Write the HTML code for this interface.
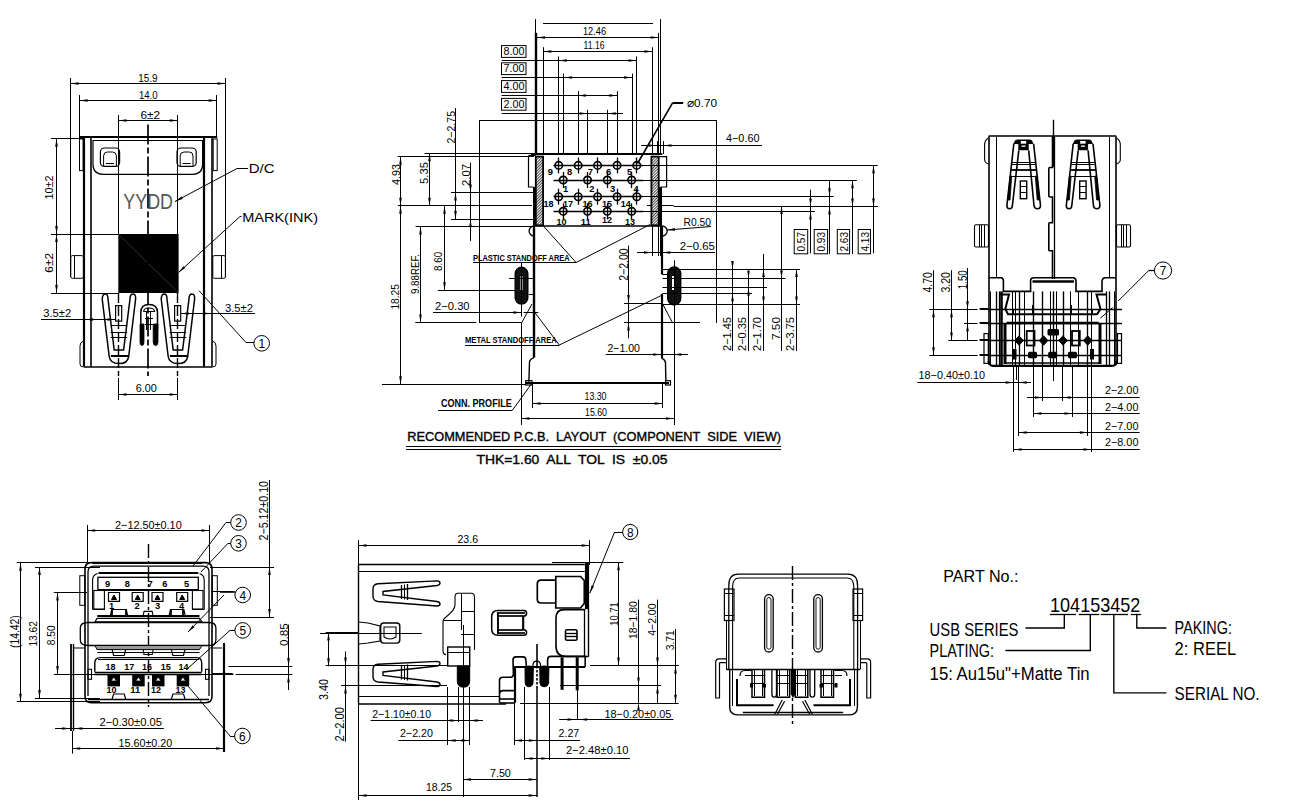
<!DOCTYPE html>
<html><head><meta charset="utf-8"><style>
html,body{margin:0;padding:0;background:#fff;width:1315px;height:809px;overflow:hidden}
svg{display:block}
text{font-family:"Liberation Sans",sans-serif;fill:#000;stroke:none}
</style></head><body>
<svg width="1315" height="809" viewBox="0 0 1315 809">
<g stroke="#000" fill="none" stroke-linecap="butt">
<line x1="70.5" y1="78" x2="70.5" y2="277" stroke-width="1"/>
<line x1="225.5" y1="78" x2="225.5" y2="277" stroke-width="1"/>
<line x1="70.6" y1="83.5" x2="225.5" y2="83.5" stroke-width="1"/>
<polygon points="70.6,83.5 78.6,82.2 78.6,84.8" stroke="none" fill="#000"/>
<polygon points="225.5,83.5 217.5,84.8 217.5,82.2" stroke="none" fill="#000"/>
<text x="138.3" y="81.9" font-size="10.97" textLength="19.3" lengthAdjust="spacingAndGlyphs" font-weight="normal">15.9</text>
<line x1="79.5" y1="95" x2="79.5" y2="138" stroke-width="1"/>
<line x1="216.5" y1="95" x2="216.5" y2="138" stroke-width="1"/>
<line x1="79.6" y1="100.5" x2="216.7" y2="100.5" stroke-width="1"/>
<polygon points="79.6,100.5 87.6,99.2 87.6,101.8" stroke="none" fill="#000"/>
<polygon points="216.7,100.5 208.7,101.8 208.7,99.2" stroke="none" fill="#000"/>
<text x="138.9" y="98.6" font-size="10.97" textLength="18.7" lengthAdjust="spacingAndGlyphs" font-weight="normal">14.0</text>
<line x1="118.5" y1="115" x2="118.5" y2="234" stroke-width="1"/>
<line x1="177.5" y1="115" x2="177.5" y2="234" stroke-width="1"/>
<line x1="118.5" y1="120.5" x2="177.8" y2="120.5" stroke-width="1"/>
<polygon points="118.5,120.5 126.5,119.2 126.5,121.8" stroke="none" fill="#000"/>
<polygon points="177.8,120.5 169.8,121.8 169.8,119.2" stroke="none" fill="#000"/>
<text x="140.4" y="118.5" font-size="10.97" textLength="19.6" lengthAdjust="spacingAndGlyphs" font-weight="normal">6±2</text>
<line x1="51" y1="138.5" x2="84" y2="138.5" stroke-width="1"/>
<line x1="51" y1="234.5" x2="118.3" y2="234.5" stroke-width="1"/>
<line x1="51" y1="293.5" x2="118.3" y2="293.5" stroke-width="1"/>
<line x1="56.5" y1="138.8" x2="56.5" y2="234" stroke-width="1"/>
<polygon points="56.5,138.8 57.8,146.8 55.2,146.8" stroke="none" fill="#000"/>
<polygon points="56.5,234 55.2,226 57.8,226" stroke="none" fill="#000"/>
<line x1="56.5" y1="234" x2="56.5" y2="293" stroke-width="1"/>
<polygon points="56.5,234 57.8,242 55.2,242" stroke="none" fill="#000"/>
<polygon points="56.5,293 55.2,285 57.8,285" stroke="none" fill="#000"/>
<text transform="translate(52.8,199.5) rotate(-90)" x="0" y="0" font-size="10.97" textLength="24" lengthAdjust="spacingAndGlyphs" font-weight="normal">10±2</text>
<text transform="translate(52.8,272.7) rotate(-90)" x="0" y="0" font-size="10.97" textLength="19.7" lengthAdjust="spacingAndGlyphs" font-weight="normal">6±2</text>
<line x1="79.7" y1="137" x2="217.2" y2="137" stroke-width="2"/>
<line x1="93" y1="140.5" x2="202.6" y2="140.5" stroke-width="1"/>
<path d="M93,140.2 L93,164.3 Q93,174.3 103,174.3 L192.6,174.3 Q202.6,174.3 202.6,164.3 L202.6,140.2" stroke-width="1.2" fill="none"/>
<rect x="100.4" y="148" width="19.2" height="18.4" rx="4" stroke-width="1.2" fill="none"/>
<path d="M103.6,166 L103.6,156 Q103.6,152 107.4,152 L112.6,152 Q116.4,152 116.4,156 L116.4,166" stroke-width="1" fill="none"/>
<line x1="105.9" y1="163.5" x2="114.1" y2="163.5" stroke-width="1"/>
<rect x="177" y="148" width="19.2" height="18.4" rx="4" stroke-width="1.2" fill="none"/>
<path d="M180.2,166 L180.2,156 Q180.2,152 184,152 L189.2,152 Q193,152 193,156 L193,166" stroke-width="1" fill="none"/>
<line x1="182.5" y1="163.5" x2="190.7" y2="163.5" stroke-width="1"/>
<line x1="84" y1="137" x2="84" y2="366.7" stroke-width="2.2"/>
<line x1="91" y1="137" x2="91" y2="366.7" stroke-width="1.6"/>
<line x1="204" y1="137" x2="204" y2="366.7" stroke-width="2.2"/>
<line x1="212" y1="137" x2="212" y2="366.7" stroke-width="1.6"/>
<line x1="84" y1="367" x2="212.3" y2="367" stroke-width="1.6"/>
<rect x="79.5" y="139" width="3.6" height="31.6" rx="0" stroke-width="1" fill="none"/>
<rect x="213.2" y="139" width="4" height="31.6" rx="0" stroke-width="1" fill="none"/>
<rect x="70.8" y="255.6" width="12.6" height="22.7" rx="1.5" stroke-width="1" fill="none"/>
<line x1="74.5" y1="256" x2="74.5" y2="278" stroke-width="1"/>
<rect x="212.8" y="255.6" width="12.6" height="22.7" rx="1.5" stroke-width="1" fill="none"/>
<line x1="221.5" y1="256" x2="221.5" y2="278" stroke-width="1"/>
<path d="M83.5,341 Q80,342 80,346 L80,364 Q80,367 83.5,367" stroke-width="1" fill="none"/>
<path d="M212.5,341 Q216,342 216,346 L216,364 Q216,367 212.5,367" stroke-width="1" fill="none"/>
<rect x="118.3" y="234" width="60.3" height="59" stroke="none" fill="#000"/>
<line x1="118.8" y1="234.5" x2="178" y2="292.5" stroke="#555" stroke-width="0.6"/>
<line x1="148" y1="124.4" x2="148" y2="376" stroke-width="1.7" stroke-dasharray="20 3 6 3"/>
<text x="123.3" y="209.2" font-size="22.6" textLength="49.7" lengthAdjust="spacingAndGlyphs" fill="#444" style="fill:#555">YYDD</text>
<text x="248.7" y="173.3" font-size="12.35" textLength="25.9" lengthAdjust="spacingAndGlyphs" font-weight="normal">D/C</text>
<line x1="237" y1="168.5" x2="248" y2="168.5" stroke-width="1"/>
<line x1="237" y1="168.5" x2="175" y2="201.5" stroke-width="1"/>
<polygon points="175,201.5 181.45,196.59 182.67,198.89" stroke="none" fill="#000"/>
<text x="242.2" y="222.1" font-size="13.03" textLength="75.8" lengthAdjust="spacingAndGlyphs" font-weight="normal">MARK(INK)</text>
<line x1="240" y1="216.5" x2="241.5" y2="216.5" stroke-width="1"/>
<line x1="240" y1="216.5" x2="178.5" y2="272.5" stroke-width="1"/>
<polygon points="178.5,272.5 183.54,266.15 185.29,268.08" stroke="none" fill="#000"/>
<line x1="199" y1="290.7" x2="246" y2="342.5" stroke-width="1"/>
<line x1="246" y1="342.5" x2="254" y2="342.5" stroke-width="1"/>
<circle cx="261.7" cy="343.3" r="7.8" stroke-width="1" fill="none"/>
<text x="258.4" y="347.9" font-size="12.76" textLength="6.6" lengthAdjust="spacingAndGlyphs" font-weight="normal">1</text>
<path d="M102.2,299 Q102.5,294 105.2,294 Q108,294 108,299 L114.2,350 L123.6,350 L130,299 Q130,294 133,294 Q136,294 135.6,299 L128.7,356.5 Q127.5,363.6 118.9,363.6 Q110.3,363.6 109.2,356.5 Z" stroke-width="1.5" fill="none"/>
<line x1="110.9" y1="356" x2="128.4" y2="356" stroke-width="2"/>
<line x1="110.6" y1="325.5" x2="127.2" y2="325.5" stroke-width="1"/>
<line x1="110.6" y1="332.5" x2="127.2" y2="332.5" stroke-width="1"/>
<line x1="110.6" y1="337.5" x2="127.2" y2="337.5" stroke-width="1"/>
<rect x="115.6" y="305.6" width="6.1" height="15.5" rx="0" stroke-width="1.2" fill="none"/>
<line x1="118.5" y1="293" x2="118.5" y2="376" stroke-width="1.4" stroke-dasharray="10 3"/>
<path d="M161.2,299 Q161.5,294 164.2,294 Q167,294 167,299 L173.2,350 L182.6,350 L189,299 Q189,294 192,294 Q195,294 194.6,299 L187.7,356.5 Q186.5,363.6 177.9,363.6 Q169.3,363.6 168.2,356.5 Z" stroke-width="1.5" fill="none"/>
<line x1="169.9" y1="356" x2="187.4" y2="356" stroke-width="2"/>
<line x1="169.6" y1="325.5" x2="186.2" y2="325.5" stroke-width="1"/>
<line x1="169.6" y1="332.5" x2="186.2" y2="332.5" stroke-width="1"/>
<line x1="169.6" y1="337.5" x2="186.2" y2="337.5" stroke-width="1"/>
<rect x="174.6" y="305.6" width="6.1" height="15.5" rx="0" stroke-width="1.2" fill="none"/>
<line x1="177.5" y1="293" x2="177.5" y2="376" stroke-width="1.4" stroke-dasharray="10 3"/>
<path d="M140.8,330 L140.8,312.5 Q140.8,304.5 149,304.5 Q157.5,304.5 157.5,312.5 L157.5,330" stroke-width="1.5" fill="none"/>
<path d="M143.6,312 Q143.6,308 149,308 Q154.6,308 154.6,312" stroke-width="1.1" fill="none"/>
<path d="M140,324 L144,324 L144,342 Q144,345.5 142,345.5 Q140,345.5 140,342 Z M153.2,324 L158,324 L158,342 Q158,345.5 155.6,345.5 Q153.2,345.5 153.2,342 Z" fill="#000" stroke="#000" stroke-width="0.8"/>
<line x1="146.5" y1="311" x2="146.5" y2="330" stroke-width="1"/>
<line x1="150.5" y1="311" x2="150.5" y2="330" stroke-width="1"/>
<line x1="144" y1="311.5" x2="154.5" y2="311.5" stroke-width="1"/>
<line x1="145" y1="318.5" x2="153" y2="318.5" stroke-width="1"/>
<line x1="145" y1="324.5" x2="153" y2="324.5" stroke-width="1"/>
<line x1="41" y1="319.5" x2="115.6" y2="319.5" stroke-width="1"/>
<polygon points="115.4,319.5 107.4,320.8 107.4,318.2" stroke="none" fill="#000"/>
<polygon points="85.2,319.5 93.2,318.2 93.2,320.8" stroke="none" fill="#000"/>
<text x="43.3" y="317.2" font-size="10.97" textLength="27.9" lengthAdjust="spacingAndGlyphs" font-weight="normal">3.5±2</text>
<line x1="180.5" y1="313.5" x2="255" y2="313.5" stroke-width="1"/>
<polygon points="180.7,313.5 188.7,312.2 188.7,314.8" stroke="none" fill="#000"/>
<polygon points="211,313.5 203,314.8 203,312.2" stroke="none" fill="#000"/>
<text x="225" y="311.7" font-size="10.97" textLength="28" lengthAdjust="spacingAndGlyphs" font-weight="normal">3.5±2</text>
<line x1="118.5" y1="378" x2="118.5" y2="400" stroke-width="1"/>
<line x1="177.5" y1="378" x2="177.5" y2="400" stroke-width="1"/>
<line x1="118.5" y1="394.5" x2="177.8" y2="394.5" stroke-width="1"/>
<polygon points="118.5,394.5 126.5,393.2 126.5,395.8" stroke="none" fill="#000"/>
<polygon points="177.8,394.5 169.8,395.8 169.8,393.2" stroke="none" fill="#000"/>
<text x="135.7" y="392.4" font-size="10.97" textLength="21.1" lengthAdjust="spacingAndGlyphs" font-weight="normal">6.00</text>
<line x1="535.5" y1="19" x2="535.5" y2="33" stroke-width="1"/>
<line x1="536" y1="32.8" x2="536" y2="155" stroke-width="2.4"/>
<line x1="660.5" y1="19" x2="660.5" y2="155" stroke-width="1"/>
<line x1="658.5" y1="32.8" x2="658.5" y2="155" stroke-width="1"/>
<line x1="543" y1="23.5" x2="653" y2="23.5" stroke-width="1"/>
<line x1="537" y1="37.5" x2="658.8" y2="37.5" stroke-width="1"/>
<polygon points="537,37.5 545,36.2 545,38.8" stroke="none" fill="#000"/>
<polygon points="658.8,37.5 650.8,38.8 650.8,36.2" stroke="none" fill="#000"/>
<text x="583" y="34.5" font-size="10.97" textLength="23" lengthAdjust="spacingAndGlyphs" font-weight="normal">12.46</text>
<line x1="543.5" y1="47.2" x2="543.5" y2="155" stroke-width="1"/>
<line x1="652.5" y1="47.2" x2="652.5" y2="155" stroke-width="1"/>
<line x1="543.3" y1="51.5" x2="652.4" y2="51.5" stroke-width="1"/>
<polygon points="543.3,51.5 551.3,50.2 551.3,52.8" stroke="none" fill="#000"/>
<polygon points="652.4,51.5 644.4,52.8 644.4,50.2" stroke="none" fill="#000"/>
<text x="583.5" y="48.8" font-size="10.97" textLength="21" lengthAdjust="spacingAndGlyphs" font-weight="normal">11.16</text>
<rect x="501.5" y="45.6" width="24.5" height="11.8" rx="0" stroke-width="1" fill="none"/>
<text x="503.5" y="55.2" font-size="10.43" textLength="21" lengthAdjust="spacingAndGlyphs" font-weight="normal">8.00</text>
<line x1="501.6" y1="60.5" x2="636.5" y2="60.5" stroke-width="1"/>
<line x1="558.5" y1="56.4" x2="558.5" y2="155" stroke-width="1"/>
<line x1="636.5" y1="56.4" x2="636.5" y2="155" stroke-width="1"/>
<rect x="501.5" y="62.8" width="24.5" height="11.8" rx="0" stroke-width="1" fill="none"/>
<text x="503.5" y="72.4" font-size="10.43" textLength="21" lengthAdjust="spacingAndGlyphs" font-weight="normal">7.00</text>
<line x1="501.6" y1="77.5" x2="632" y2="77.5" stroke-width="1"/>
<line x1="563.5" y1="73.6" x2="563.5" y2="155" stroke-width="1"/>
<line x1="632.5" y1="73.6" x2="632.5" y2="155" stroke-width="1"/>
<rect x="501.5" y="80.6" width="24.5" height="11.8" rx="0" stroke-width="1" fill="none"/>
<text x="503.5" y="90.2" font-size="10.43" textLength="21" lengthAdjust="spacingAndGlyphs" font-weight="normal">4.00</text>
<line x1="501.6" y1="95.5" x2="617.2" y2="95.5" stroke-width="1"/>
<line x1="578.5" y1="91.1" x2="578.5" y2="155" stroke-width="1"/>
<line x1="617.5" y1="91.1" x2="617.5" y2="155" stroke-width="1"/>
<rect x="501.5" y="98.4" width="24.5" height="11.8" rx="0" stroke-width="1" fill="none"/>
<text x="503.5" y="108" font-size="10.43" textLength="21" lengthAdjust="spacingAndGlyphs" font-weight="normal">2.00</text>
<line x1="501.6" y1="113.5" x2="607.8" y2="113.5" stroke-width="1"/>
<line x1="587.5" y1="109.8" x2="587.5" y2="155" stroke-width="1"/>
<line x1="607.5" y1="109.8" x2="607.5" y2="155" stroke-width="1"/>
<polygon points="558.8,60.5 566.8,59.2 566.8,61.8" stroke="none" fill="#000"/>
<polygon points="636.5,60.5 628.5,61.8 628.5,59.2" stroke="none" fill="#000"/>
<polygon points="563.9,77.5 571.9,76.2 571.9,78.8" stroke="none" fill="#000"/>
<polygon points="632,77.5 624,78.8 624,76.2" stroke="none" fill="#000"/>
<polygon points="578,95.5 586,94.2 586,96.8" stroke="none" fill="#000"/>
<polygon points="617.2,95.5 609.2,96.8 609.2,94.2" stroke="none" fill="#000"/>
<line x1="578" y1="113.5" x2="623" y2="113.5" stroke-width="1"/>
<polygon points="587.6,113.5 579.6,114.8 579.6,112.2" stroke="none" fill="#000"/>
<polygon points="607.8,113.5 615.8,112.2 615.8,114.8" stroke="none" fill="#000"/>
<line x1="479.3" y1="120.5" x2="716.8" y2="120.5" stroke-width="1"/>
<line x1="479.5" y1="120.3" x2="479.5" y2="323" stroke-width="1"/>
<line x1="716.5" y1="120.3" x2="716.5" y2="323" stroke-width="1"/>
<line x1="455.5" y1="108" x2="455.5" y2="219" stroke-width="1"/>
<text transform="translate(455,143.5) rotate(-90)" x="0" y="0" font-size="10.97" textLength="32.5" lengthAdjust="spacingAndGlyphs" font-weight="normal">2−2.75</text>
<line x1="397.8" y1="156.5" x2="534" y2="156.5" stroke-width="1"/>
<line x1="424.5" y1="153.5" x2="569.8" y2="153.5" stroke-width="1"/>
<line x1="451" y1="192.5" x2="534" y2="192.5" stroke-width="1"/>
<line x1="451" y1="219.5" x2="534" y2="219.5" stroke-width="1"/>
<line x1="397.8" y1="205.5" x2="532" y2="205.5" stroke-width="1"/>
<line x1="647" y1="205.5" x2="673.6" y2="205.5" stroke-width="1"/>
<line x1="415.6" y1="226.5" x2="534" y2="226.5" stroke-width="1"/>
<line x1="400.5" y1="156.8" x2="400.5" y2="205.7" stroke-width="1"/>
<polygon points="400.5,156.8 401.8,164.8 399.2,164.8" stroke="none" fill="#000"/>
<polygon points="400.5,205.7 399.2,197.7 401.8,197.7" stroke="none" fill="#000"/>
<text transform="translate(400,185) rotate(-90)" x="0" y="0" font-size="10.97" textLength="21" lengthAdjust="spacingAndGlyphs" font-weight="normal">4.93</text>
<line x1="429.5" y1="153.2" x2="429.5" y2="205.7" stroke-width="1"/>
<polygon points="429.5,153.2 430.8,161.2 428.2,161.2" stroke="none" fill="#000"/>
<polygon points="429.5,205.7 428.2,197.7 430.8,197.7" stroke="none" fill="#000"/>
<text transform="translate(428,184) rotate(-90)" x="0" y="0" font-size="10.97" textLength="22" lengthAdjust="spacingAndGlyphs" font-weight="normal">5.35</text>
<line x1="470.5" y1="162.7" x2="470.5" y2="241" stroke-width="1"/>
<polygon points="470.5,192.4 469.2,184.4 471.8,184.4" stroke="none" fill="#000"/>
<polygon points="470.5,219 471.8,227 469.2,227" stroke="none" fill="#000"/>
<text transform="translate(469.5,186) rotate(-90)" x="0" y="0" font-size="10.97" textLength="22" lengthAdjust="spacingAndGlyphs" font-weight="normal">2.07</text>
<line x1="455.5" y1="192.4" x2="455.5" y2="219" stroke-width="1"/>
<polygon points="455.5,192.4 456.8,200.4 454.2,200.4" stroke="none" fill="#000"/>
<polygon points="455.5,219 454.2,211 456.8,211" stroke="none" fill="#000"/>
<line x1="400.5" y1="205.7" x2="400.5" y2="384.2" stroke-width="1"/>
<polygon points="400.5,384.2 399.2,376.2 401.8,376.2" stroke="none" fill="#000"/>
<polygon points="400.5,205.7 401.8,213.7 399.2,213.7" stroke="none" fill="#000"/>
<text transform="translate(399,309.6) rotate(-90)" x="0" y="0" font-size="10.97" textLength="25.6" lengthAdjust="spacingAndGlyphs" font-weight="normal">18.25</text>
<line x1="420.5" y1="226.5" x2="420.5" y2="322.5" stroke-width="1"/>
<polygon points="420.5,226.5 421.8,234.5 419.2,234.5" stroke="none" fill="#000"/>
<polygon points="420.5,322.5 419.2,314.5 421.8,314.5" stroke="none" fill="#000"/>
<text transform="translate(418.5,294) rotate(-90)" x="0" y="0" font-size="10.97" textLength="40" lengthAdjust="spacingAndGlyphs" font-weight="normal">9.88REF.</text>
<line x1="444.5" y1="205.7" x2="444.5" y2="290.2" stroke-width="1"/>
<polygon points="444.5,290.2 443.2,282.2 445.8,282.2" stroke="none" fill="#000"/>
<polygon points="444.5,205.7 445.8,213.7 443.2,213.7" stroke="none" fill="#000"/>
<text transform="translate(441.5,271) rotate(-90)" x="0" y="0" font-size="11.66" textLength="19.2" lengthAdjust="spacingAndGlyphs" font-weight="normal">8.60</text>
<line x1="437.8" y1="290.5" x2="521.4" y2="290.5" stroke-width="1"/>
<line x1="415.3" y1="322.5" x2="476.4" y2="322.5" stroke-width="1"/>
<line x1="479.6" y1="322.5" x2="521.4" y2="322.5" stroke-width="1"/>
<line x1="433" y1="312.5" x2="521.4" y2="312.5" stroke-width="1"/>
<polygon points="521.4,312.5 513.4,313.8 513.4,311.2" stroke="none" fill="#000"/>
<text x="435" y="310.2" font-size="10.97" textLength="34.6" lengthAdjust="spacingAndGlyphs" font-weight="normal">2−0.30</text>
<line x1="382" y1="384.5" x2="526" y2="384.5" stroke-width="1"/>
<line x1="531" y1="154" x2="662.3" y2="154" stroke-width="2"/>
<line x1="533.4" y1="226" x2="662.3" y2="226" stroke-width="1.5"/>
<defs><pattern id="hat" width="2" height="2" patternUnits="userSpaceOnUse" patternTransform="rotate(45)"><rect width="2" height="2" fill="#fff" stroke="none"/><line x1="0" y1="0" x2="0" y2="2" stroke="#000" stroke-width="1.45"/></pattern></defs>
<rect x="535.8" y="156.6" width="7.3" height="68.7" fill="url(#hat)" stroke="#000" stroke-width="1.8"/>
<rect x="651.4" y="156.6" width="7.3" height="68.7" fill="url(#hat)" stroke="#000" stroke-width="1.8"/>
<path d="M535.8,155.3 L529.5,155.3 Q528.5,155.3 528.5,157 L528.5,187 L533.4,187" stroke-width="1.2" fill="none"/>
<line x1="534.5" y1="187" x2="534.5" y2="226" stroke-width="3"/>
<path d="M658.7,156.6 L666.6,156.6 L666.6,187 L660.5,187" stroke-width="1.2" fill="none"/>
<line x1="660.5" y1="187" x2="660.5" y2="226" stroke-width="3"/>
<line x1="553.5" y1="165.5" x2="643" y2="165.5" stroke-width="1.3"/>
<circle cx="558.7" cy="165.4" r="3.7" stroke-width="1.7" fill="none"/>
<line x1="558.5" y1="157.4" x2="558.5" y2="173.4" stroke-width="1.3"/>
<circle cx="578.2" cy="165.4" r="3.7" stroke-width="1.7" fill="none"/>
<line x1="578.5" y1="157.4" x2="578.5" y2="173.4" stroke-width="1.3"/>
<circle cx="597.6" cy="165.4" r="3.7" stroke-width="1.7" fill="none"/>
<line x1="597.5" y1="157.4" x2="597.5" y2="173.4" stroke-width="1.3"/>
<circle cx="617.1" cy="165.4" r="3.7" stroke-width="1.7" fill="none"/>
<line x1="617.5" y1="157.4" x2="617.5" y2="173.4" stroke-width="1.3"/>
<circle cx="636.8" cy="165.4" r="3.7" stroke-width="1.7" fill="none"/>
<line x1="636.5" y1="157.4" x2="636.5" y2="173.4" stroke-width="1.3"/>
<line x1="553.5" y1="180.5" x2="643" y2="180.5" stroke-width="1.3"/>
<circle cx="563.2" cy="180" r="3.7" stroke-width="1.7" fill="none"/>
<line x1="563.5" y1="172" x2="563.5" y2="188" stroke-width="1.3"/>
<circle cx="587.5" cy="180" r="3.7" stroke-width="1.7" fill="none"/>
<line x1="587.5" y1="172" x2="587.5" y2="188" stroke-width="1.3"/>
<circle cx="607.3" cy="180" r="3.7" stroke-width="1.7" fill="none"/>
<line x1="607.5" y1="172" x2="607.5" y2="188" stroke-width="1.3"/>
<circle cx="631.7" cy="180" r="3.7" stroke-width="1.7" fill="none"/>
<line x1="631.5" y1="172" x2="631.5" y2="188" stroke-width="1.3"/>
<line x1="553.5" y1="196.5" x2="643" y2="196.5" stroke-width="1.3"/>
<circle cx="558.7" cy="196.7" r="3.7" stroke-width="1.7" fill="none"/>
<line x1="558.5" y1="188.7" x2="558.5" y2="204.7" stroke-width="1.3"/>
<circle cx="578.2" cy="196.7" r="3.7" stroke-width="1.7" fill="none"/>
<line x1="578.5" y1="188.7" x2="578.5" y2="204.7" stroke-width="1.3"/>
<circle cx="597.6" cy="196.7" r="3.7" stroke-width="1.7" fill="none"/>
<line x1="597.5" y1="188.7" x2="597.5" y2="204.7" stroke-width="1.3"/>
<circle cx="617.1" cy="196.7" r="3.7" stroke-width="1.7" fill="none"/>
<line x1="617.5" y1="188.7" x2="617.5" y2="204.7" stroke-width="1.3"/>
<circle cx="636.8" cy="196.7" r="3.7" stroke-width="1.7" fill="none"/>
<line x1="636.5" y1="188.7" x2="636.5" y2="204.7" stroke-width="1.3"/>
<line x1="553.5" y1="211.5" x2="643" y2="211.5" stroke-width="1.3"/>
<circle cx="563.2" cy="211.3" r="3.7" stroke-width="1.7" fill="none"/>
<line x1="563.5" y1="203.3" x2="563.5" y2="219.3" stroke-width="1.3"/>
<circle cx="587.5" cy="211.3" r="3.7" stroke-width="1.7" fill="none"/>
<line x1="587.5" y1="203.3" x2="587.5" y2="219.3" stroke-width="1.3"/>
<circle cx="607.3" cy="211.3" r="3.7" stroke-width="1.7" fill="none"/>
<line x1="607.5" y1="203.3" x2="607.5" y2="219.3" stroke-width="1.3"/>
<circle cx="631.7" cy="211.3" r="3.7" stroke-width="1.7" fill="none"/>
<line x1="631.5" y1="203.3" x2="631.5" y2="219.3" stroke-width="1.3"/>
<text x="547.8" y="175.4" font-size="9.88" textLength="5.2" lengthAdjust="spacingAndGlyphs" font-weight="bold">9</text>
<text x="567" y="175.4" font-size="9.88" textLength="5.2" lengthAdjust="spacingAndGlyphs" font-weight="bold">8</text>
<text x="587.7" y="175.4" font-size="9.88" textLength="5.2" lengthAdjust="spacingAndGlyphs" font-weight="bold">7</text>
<text x="606" y="174.8" font-size="9.88" textLength="5.2" lengthAdjust="spacingAndGlyphs" font-weight="bold">6</text>
<text x="626.9" y="174.8" font-size="9.88" textLength="5.2" lengthAdjust="spacingAndGlyphs" font-weight="bold">5</text>
<text x="563" y="191.8" font-size="9.88" textLength="5.2" lengthAdjust="spacingAndGlyphs" font-weight="bold">1</text>
<text x="589.2" y="192.4" font-size="9.88" textLength="5.2" lengthAdjust="spacingAndGlyphs" font-weight="bold">2</text>
<text x="609.9" y="192.4" font-size="9.88" textLength="5.2" lengthAdjust="spacingAndGlyphs" font-weight="bold">3</text>
<text x="633.6" y="191.8" font-size="9.88" textLength="5.2" lengthAdjust="spacingAndGlyphs" font-weight="bold">4</text>
<text x="543.6" y="207" font-size="9.88" textLength="10" lengthAdjust="spacingAndGlyphs" font-weight="bold">18</text>
<text x="563" y="207" font-size="9.88" textLength="10" lengthAdjust="spacingAndGlyphs" font-weight="bold">17</text>
<text x="582.5" y="207" font-size="9.88" textLength="10" lengthAdjust="spacingAndGlyphs" font-weight="bold">16</text>
<text x="602" y="207" font-size="9.88" textLength="10" lengthAdjust="spacingAndGlyphs" font-weight="bold">15</text>
<text x="620.8" y="207" font-size="9.88" textLength="10" lengthAdjust="spacingAndGlyphs" font-weight="bold">14</text>
<text x="556.4" y="225.2" font-size="9.88" textLength="10" lengthAdjust="spacingAndGlyphs" font-weight="bold">10</text>
<text x="580.7" y="225.2" font-size="9.88" textLength="10" lengthAdjust="spacingAndGlyphs" font-weight="bold">11</text>
<text x="602" y="222.8" font-size="9.88" textLength="10" lengthAdjust="spacingAndGlyphs" font-weight="bold">12</text>
<text x="625" y="224.6" font-size="9.88" textLength="10" lengthAdjust="spacingAndGlyphs" font-weight="bold">13</text>
<text x="687" y="106.8" font-size="11.66" textLength="30" lengthAdjust="spacingAndGlyphs" font-weight="normal">⌀0.70</text>
<line x1="672.6" y1="103" x2="683.2" y2="103" stroke-width="2"/>
<line x1="672.6" y1="102.8" x2="637.5" y2="163.5" stroke-width="1.6"/>
<text x="726" y="142.2" font-size="10.97" textLength="33.5" lengthAdjust="spacingAndGlyphs" font-weight="normal">4−0.60</text>
<line x1="641.2" y1="145.5" x2="762" y2="145.5" stroke-width="1"/>
<polygon points="656.5,145.5 648.5,146.8 648.5,144.2" stroke="none" fill="#000"/>
<polygon points="663.5,145.5 671.5,144.2 671.5,146.8" stroke="none" fill="#000"/>
<line x1="657.5" y1="141.1" x2="657.5" y2="154" stroke-width="1"/>
<line x1="663.5" y1="141.1" x2="663.5" y2="154" stroke-width="1"/>
<line x1="643" y1="165.5" x2="877.7" y2="165.5" stroke-width="1"/>
<line x1="643" y1="180.5" x2="856.8" y2="180.5" stroke-width="1"/>
<line x1="643" y1="196.5" x2="833.7" y2="196.5" stroke-width="1"/>
<line x1="673.6" y1="206.5" x2="877.7" y2="206.5" stroke-width="1"/>
<line x1="643" y1="211.5" x2="814.9" y2="211.5" stroke-width="1"/>
<rect x="794.2" y="229.5" width="13.5" height="24.3" rx="0" stroke-width="1" fill="none"/>
<text transform="translate(804.5,251.5) rotate(-90)" x="0" y="0" font-size="10.7" textLength="19.5" lengthAdjust="spacingAndGlyphs" font-weight="normal">0.57</text>
<rect x="814.2" y="229.5" width="13.4" height="24.3" rx="0" stroke-width="1" fill="none"/>
<text transform="translate(824.5,251.5) rotate(-90)" x="0" y="0" font-size="10.7" textLength="19.5" lengthAdjust="spacingAndGlyphs" font-weight="normal">0.93</text>
<rect x="837.3" y="229.5" width="12.3" height="24.3" rx="0" stroke-width="1" fill="none"/>
<text transform="translate(847.6,251.5) rotate(-90)" x="0" y="0" font-size="10.7" textLength="19.5" lengthAdjust="spacingAndGlyphs" font-weight="normal">2.63</text>
<rect x="858.2" y="229.5" width="12.3" height="24.3" rx="0" stroke-width="1" fill="none"/>
<text transform="translate(868.5,251.5) rotate(-90)" x="0" y="0" font-size="10.7" textLength="19.5" lengthAdjust="spacingAndGlyphs" font-weight="normal">4.13</text>
<line x1="810.5" y1="189.7" x2="810.5" y2="253.3" stroke-width="1"/>
<polygon points="810.5,206.4 809.2,198.4 811.8,198.4" stroke="none" fill="#000"/>
<polygon points="810.5,211.4 811.8,219.4 809.2,219.4" stroke="none" fill="#000"/>
<line x1="829.5" y1="180.3" x2="829.5" y2="254" stroke-width="1"/>
<polygon points="829.5,196.2 828.2,188.2 830.8,188.2" stroke="none" fill="#000"/>
<polygon points="829.5,206.4 830.8,214.4 828.2,214.4" stroke="none" fill="#000"/>
<line x1="852.5" y1="180.3" x2="852.5" y2="254" stroke-width="1"/>
<polygon points="852.5,180.3 853.8,188.3 851.2,188.3" stroke="none" fill="#000"/>
<polygon points="852.5,206.4 851.2,198.4 853.8,198.4" stroke="none" fill="#000"/>
<line x1="873.5" y1="165.2" x2="873.5" y2="253.3" stroke-width="1"/>
<polygon points="873.5,165.2 874.8,173.2 872.2,173.2" stroke="none" fill="#000"/>
<polygon points="873.5,206.4 872.2,198.4 874.8,198.4" stroke="none" fill="#000"/>
<text x="683.5" y="225.5" font-size="10.97" textLength="27.5" lengthAdjust="spacingAndGlyphs" font-weight="normal">R0.50</text>
<line x1="711" y1="226.5" x2="667" y2="230" stroke-width="1"/>
<polygon points="667,230 674.87,228.07 675.08,230.66" stroke="none" fill="#000"/>
<text x="679.7" y="250" font-size="10.97" textLength="35.3" lengthAdjust="spacingAndGlyphs" font-weight="normal">2−0.65</text>
<line x1="637" y1="252.5" x2="715" y2="252.5" stroke-width="1"/>
<polygon points="652,252.5 644,253.8 644,251.2" stroke="none" fill="#000"/>
<polygon points="662.2,252.5 670.2,251.2 670.2,253.8" stroke="none" fill="#000"/>
<line x1="652.5" y1="226" x2="652.5" y2="256" stroke-width="1"/>
<line x1="658.5" y1="226" x2="658.5" y2="256" stroke-width="1"/>
<line x1="660.5" y1="226" x2="660.5" y2="256" stroke-width="1"/>
<line x1="534" y1="226" x2="534" y2="357.6" stroke-width="2.4"/>
<line x1="662" y1="226" x2="662" y2="274.3" stroke-width="2.2"/>
<line x1="662" y1="293.8" x2="662" y2="358.7" stroke-width="2.2"/>
<line x1="528.9" y1="294.5" x2="534.1" y2="294.5" stroke-width="1"/>
<line x1="662.2" y1="274.5" x2="668" y2="274.5" stroke-width="1"/>
<path d="M534.1,357.6 Q530,359 529.5,362 L528.9,381.8" stroke-width="1.4" fill="none"/>
<path d="M662.2,358.7 Q665.5,360 665.5,363 L665.9,381" stroke-width="1.4" fill="none"/>
<line x1="525.7" y1="383" x2="669" y2="383" stroke-width="2"/>
<rect x="525.7" y="380.7" width="6.3" height="4.3" rx="0" stroke-width="1.2" fill="none"/>
<rect x="665.5" y="380.7" width="5" height="4.3" rx="0" stroke-width="1.2" fill="none"/>
<rect x="515.2" y="267.3" width="12.6" height="36.7" rx="6.3" fill="#111" stroke="#000" stroke-width="1.4"/>
<rect x="667.7" y="267" width="13" height="38" rx="6.5" fill="#111" stroke="#000" stroke-width="1.4"/>
<rect x="520.5" y="276" width="2" height="14" fill="#fff" stroke="none"/>
<rect x="672" y="276" width="2" height="14" fill="#fff" stroke="none"/>
<line x1="521.5" y1="262" x2="521.5" y2="316.6" stroke-width="1"/>
<line x1="521.5" y1="323" x2="521.5" y2="425" stroke-width="1"/>
<line x1="674.5" y1="260.4" x2="674.5" y2="425" stroke-width="1"/>
<line x1="508.9" y1="278.5" x2="535" y2="278.5" stroke-width="1"/>
<text x="473" y="261" font-size="9.33" textLength="96.6" lengthAdjust="spacingAndGlyphs" font-weight="bold">PLASTIC STANDOFF AREA</text>
<line x1="473" y1="262.5" x2="576.1" y2="262.5" stroke-width="1"/>
<line x1="576.1" y1="262.5" x2="650" y2="224.5" stroke-width="1"/>
<line x1="576.1" y1="262.5" x2="543.6" y2="226.3" stroke-width="1"/>
<text x="465" y="342.5" font-size="9.33" textLength="91.7" lengthAdjust="spacingAndGlyphs" font-weight="bold">METAL STANDOFF AREA</text>
<line x1="465" y1="345.5" x2="559.3" y2="345.5" stroke-width="1"/>
<line x1="559.3" y1="345" x2="663" y2="294.7" stroke-width="1"/>
<line x1="559.3" y1="345" x2="534" y2="311.4" stroke-width="1"/>
<line x1="521.5" y1="323" x2="532" y2="304" stroke-width="1"/>
<line x1="662.2" y1="303" x2="672.4" y2="322.6" stroke-width="1"/>
<line x1="523.6" y1="312.5" x2="538.3" y2="312.5" stroke-width="1"/>
<path d="M534.1,226 A5,5 0 0 0 534.1,236" stroke-width="1.3" fill="none"/>
<path d="M662.2,226 A5,5 0 0 1 662.2,236" stroke-width="1.3" fill="none"/>
<line x1="532.6" y1="403.5" x2="662.7" y2="403.5" stroke-width="1"/>
<polygon points="532.6,403.5 540.6,402.2 540.6,404.8" stroke="none" fill="#000"/>
<polygon points="662.7,403.5 654.7,404.8 654.7,402.2" stroke="none" fill="#000"/>
<text x="584.5" y="400" font-size="10.97" textLength="22" lengthAdjust="spacingAndGlyphs" font-weight="normal">13.30</text>
<line x1="521.4" y1="418.5" x2="674" y2="418.5" stroke-width="1"/>
<polygon points="521.4,418.5 529.4,417.2 529.4,419.8" stroke="none" fill="#000"/>
<polygon points="674,418.5 666,419.8 666,417.2" stroke="none" fill="#000"/>
<text x="585" y="415.5" font-size="10.97" textLength="22" lengthAdjust="spacingAndGlyphs" font-weight="normal">15.60</text>
<line x1="532.5" y1="384" x2="532.5" y2="408" stroke-width="1"/>
<line x1="662.5" y1="384" x2="662.5" y2="408" stroke-width="1"/>
<text x="441" y="406.5" font-size="10.29" textLength="70.7" lengthAdjust="spacingAndGlyphs" font-weight="bold">CONN. PROFILE</text>
<line x1="438" y1="410.5" x2="512" y2="410.5" stroke-width="1"/>
<line x1="512" y1="410.8" x2="531" y2="384.5" stroke-width="1"/>
<text x="407.3" y="441" font-size="13" textLength="373.7" lengthAdjust="spacingAndGlyphs" stroke="#000" stroke-width="0.35" style="stroke:#000;white-space:pre">RECOMMENDED P.C.B.  LAYOUT  (COMPONENT  SIDE  VIEW)</text>
<line x1="406" y1="446.5" x2="781" y2="446.5" stroke-width="1"/>
<line x1="406" y1="449.5" x2="781" y2="449.5" stroke-width="1"/>
<text x="476.4" y="464" font-size="12.8" textLength="191.1" lengthAdjust="spacingAndGlyphs" style="stroke:#000;stroke-width:0.35;white-space:pre">THK=1.60  ALL  TOL  IS  ±0.05</text>
<text transform="translate(627.8,280.8) rotate(-90)" x="0" y="0" font-size="12.07" textLength="32.5" lengthAdjust="spacingAndGlyphs" font-weight="normal">2−2.00</text>
<line x1="628.5" y1="245.6" x2="628.5" y2="338.3" stroke-width="1"/>
<polygon points="628.5,303 627.2,295 629.8,295" stroke="none" fill="#000"/>
<polygon points="628.5,322.6 629.8,330.6 627.2,330.6" stroke="none" fill="#000"/>
<line x1="662.5" y1="269.5" x2="800" y2="269.5" stroke-width="1"/>
<line x1="662.5" y1="278.5" x2="785.5" y2="278.5" stroke-width="1"/>
<line x1="662.5" y1="287.5" x2="767" y2="287.5" stroke-width="1"/>
<line x1="662.5" y1="293.5" x2="752" y2="293.5" stroke-width="1"/>
<line x1="662.5" y1="304.5" x2="800" y2="304.5" stroke-width="1"/>
<line x1="624" y1="303.5" x2="662" y2="303.5" stroke-width="1"/>
<line x1="624" y1="322.5" x2="700" y2="322.5" stroke-width="1"/>
<text x="607.4" y="352.2" font-size="11.66" textLength="32.6" lengthAdjust="spacingAndGlyphs" font-weight="normal">2−1.00</text>
<line x1="605.6" y1="354.5" x2="688" y2="354.5" stroke-width="1"/>
<polygon points="661.2,354.5 653.2,355.8 653.2,353.2" stroke="none" fill="#000"/>
<polygon points="673.3,354.5 681.3,353.2 681.3,355.8" stroke="none" fill="#000"/>
<line x1="732.5" y1="263.6" x2="732.5" y2="351" stroke-width="1"/>
<line x1="748.5" y1="273" x2="748.5" y2="351" stroke-width="1"/>
<line x1="763.5" y1="254" x2="763.5" y2="351" stroke-width="1"/>
<line x1="781.5" y1="206" x2="781.5" y2="351" stroke-width="1"/>
<line x1="796.5" y1="269" x2="796.5" y2="351" stroke-width="1"/>
<text transform="translate(731,351) rotate(-90)" x="0" y="0" font-size="10.97" textLength="34" lengthAdjust="spacingAndGlyphs" font-weight="normal">2−1.45</text>
<text transform="translate(746,351) rotate(-90)" x="0" y="0" font-size="10.97" textLength="34" lengthAdjust="spacingAndGlyphs" font-weight="normal">2−0.35</text>
<text transform="translate(761,351) rotate(-90)" x="0" y="0" font-size="10.97" textLength="34" lengthAdjust="spacingAndGlyphs" font-weight="normal">2−1.70</text>
<text transform="translate(779.5,340) rotate(-90)" x="0" y="0" font-size="10.97" textLength="23" lengthAdjust="spacingAndGlyphs" font-weight="normal">7.50</text>
<text transform="translate(794,351) rotate(-90)" x="0" y="0" font-size="10.97" textLength="34" lengthAdjust="spacingAndGlyphs" font-weight="normal">2−3.75</text>
<polygon points="732.5,269 731.2,261 733.8,261" stroke="none" fill="#000"/>
<polygon points="732.5,293.3 733.8,301.3 731.2,301.3" stroke="none" fill="#000"/>
<polygon points="748.5,278.4 747.2,270.4 749.8,270.4" stroke="none" fill="#000"/>
<polygon points="748.5,287.7 749.8,295.7 747.2,295.7" stroke="none" fill="#000"/>
<polygon points="763.5,269 764.8,277 762.2,277" stroke="none" fill="#000"/>
<polygon points="763.5,304.4 762.2,296.4 764.8,296.4" stroke="none" fill="#000"/>
<polygon points="781.5,206 782.8,214 780.2,214" stroke="none" fill="#000"/>
<polygon points="781.5,278.4 780.2,270.4 782.8,270.4" stroke="none" fill="#000"/>
<polygon points="796.5,269 797.8,277 795.2,277" stroke="none" fill="#000"/>
<polygon points="796.5,304.4 795.2,296.4 797.8,296.4" stroke="none" fill="#000"/>
<line x1="1053.5" y1="119.8" x2="1053.5" y2="167" stroke-width="1.4"/>
<path d="M1052.5,136 L1052.5,167.5 L1049.5,167.5 Q1048.8,167.5 1048.8,169 L1048.8,196 Q1048.8,197 1050,197 L1052.5,197 L1052.5,222.7 L1049.5,222.7 Q1048.8,222.7 1048.8,224 L1048.8,250 Q1048.8,250.8 1050,250.8 L1052.5,250.8 L1052.5,279" stroke-width="1.6" fill="none"/>
<line x1="1054.5" y1="136" x2="1054.5" y2="279" stroke-width="1.3"/>
<line x1="988.6" y1="136" x2="1116.3" y2="136" stroke-width="1.5"/>
<line x1="989" y1="136.3" x2="989" y2="365" stroke-width="1.6"/>
<line x1="1116" y1="136.3" x2="1116" y2="365" stroke-width="1.6"/>
<line x1="996.5" y1="137" x2="996.5" y2="278" stroke-width="1"/>
<line x1="1109.5" y1="137" x2="1109.5" y2="278" stroke-width="1"/>
<path d="M988.6,138 Q984.6,140 984.6,145 L984.6,160 Q985,163 988.6,164" stroke-width="1.1" fill="none"/>
<path d="M1116.3,138 Q1120.3,140 1120.3,145 L1120.3,160 Q1120,163 1116.3,164" stroke-width="1.1" fill="none"/>
<rect x="974.5" y="224.8" width="14" height="22.2" rx="1.5" stroke-width="1.1" fill="none"/>
<line x1="979.5" y1="225" x2="979.5" y2="247" stroke-width="1"/>
<line x1="981.5" y1="225" x2="981.5" y2="247" stroke-width="1"/>
<line x1="984.5" y1="225" x2="984.5" y2="247" stroke-width="1"/>
<rect x="1116.5" y="224.8" width="14" height="22.2" rx="1.5" stroke-width="1.1" fill="none"/>
<line x1="1121.5" y1="225" x2="1121.5" y2="247" stroke-width="1"/>
<line x1="1123.5" y1="225" x2="1123.5" y2="247" stroke-width="1"/>
<line x1="1126.5" y1="225" x2="1126.5" y2="247" stroke-width="1"/>
<path d="M1013.8,143.9 L1006.9,205.5 Q1006.9,208.8 1009.6,208.8 Q1012.3,208.8 1012.4,205.5 L1018.8,150.3" stroke-width="1.6" fill="none"/>
<path d="M1033.6,143.9 L1040.5,205.5 Q1040.5,208.8 1037.5,208.8 Q1034.4,208.8 1034,205.5 L1028.7,150.3" stroke-width="1.6" fill="none"/>
<path d="M1013.3,143.9 L1015,140.5 Q1016,139.4 1018,139.4 L1029,139.4 Q1031,139.4 1032,140.5 L1033.6,143.9 Z M1018.3,143.9 L1028.7,143.9 L1028.7,150.3 L1018.3,150.3 Z" fill="#000" stroke="none"/>
<rect x="1020.8" y="141" width="5.4" height="2.7" rx="0" stroke-width="0" fill="#fff"/>
<rect x="1021.5" y="145.5" width="4" height="1.3" fill="#fff" stroke="none"/>
<line x1="1011.4" y1="162.5" x2="1035" y2="162.5" stroke-width="1"/>
<line x1="1012" y1="164.5" x2="1035" y2="164.5" stroke-width="1"/>
<line x1="1010.7" y1="170" x2="1036" y2="170" stroke-width="1.8"/>
<line x1="1010.3" y1="176.5" x2="1036.5" y2="176.5" stroke-width="1"/>
<rect x="1020.3" y="181" width="6.4" height="17.7" rx="0" stroke-width="1.4" fill="none"/>
<line x1="1020.3" y1="186.5" x2="1026.7" y2="186.5" stroke-width="1"/>
<line x1="1020.3" y1="192.5" x2="1026.7" y2="192.5" stroke-width="1"/>
<path d="M1010,176 L1007.8,200 L1010,200 L1011.7,176 Z" stroke-width="0.8" fill="#000"/>
<path d="M1037,176 L1039.5,200 L1037.2,200 L1035.3,176 Z" stroke-width="0.8" fill="#000"/>
<path d="M1073.2,143.9 L1066.3,205.5 Q1066.3,208.8 1069,208.8 Q1071.7,208.8 1071.8,205.5 L1078.2,150.3" stroke-width="1.6" fill="none"/>
<path d="M1093,143.9 L1099.9,205.5 Q1099.9,208.8 1096.9,208.8 Q1093.8,208.8 1093.4,205.5 L1088.1,150.3" stroke-width="1.6" fill="none"/>
<path d="M1072.7,143.9 L1074.4,140.5 Q1075.4,139.4 1077.4,139.4 L1088.4,139.4 Q1090.4,139.4 1091.4,140.5 L1093,143.9 Z M1077.7,143.9 L1088.1,143.9 L1088.1,150.3 L1077.7,150.3 Z" fill="#000" stroke="none"/>
<rect x="1080.2" y="141" width="5.4" height="2.7" rx="0" stroke-width="0" fill="#fff"/>
<rect x="1080.9" y="145.5" width="4" height="1.3" fill="#fff" stroke="none"/>
<line x1="1070.8" y1="162.5" x2="1094.4" y2="162.5" stroke-width="1"/>
<line x1="1071.4" y1="164.5" x2="1094.4" y2="164.5" stroke-width="1"/>
<line x1="1070.1" y1="170" x2="1095.4" y2="170" stroke-width="1.8"/>
<line x1="1069.7" y1="176.5" x2="1095.9" y2="176.5" stroke-width="1"/>
<rect x="1079.7" y="181" width="6.4" height="17.7" rx="0" stroke-width="1.4" fill="none"/>
<line x1="1079.7" y1="186.5" x2="1086.1" y2="186.5" stroke-width="1"/>
<line x1="1079.7" y1="192.5" x2="1086.1" y2="192.5" stroke-width="1"/>
<path d="M1069.4,176 L1067.2,200 L1069.4,200 L1071.1,176 Z" stroke-width="0.8" fill="#000"/>
<path d="M1096.4,176 L1098.9,200 L1096.6,200 L1094.7,176 Z" stroke-width="0.8" fill="#000"/>
<path d="M988.6,277.8 L1001,277.8 Q1003.4,278 1003.4,281 L1003.4,291.4 L1030.6,291.4 L1030.6,280 Q1031,277.8 1034,277.8 L1073,277.8 Q1076,278 1076,281 L1076,291.4 L1102,291.4 L1102,281 Q1102.5,277.8 1105,277.8 L1116.3,277.8" stroke-width="1.6" fill="none"/>
<line x1="1032.5" y1="281.5" x2="1074" y2="281.5" stroke-width="2.6"/>
<line x1="988" y1="309.5" x2="1122" y2="309.5" stroke-width="1.3"/>
<line x1="988" y1="340.5" x2="1122" y2="340.5" stroke-width="1.3"/>
<line x1="988" y1="355.5" x2="1122" y2="355.5" stroke-width="1.3"/>
<line x1="988" y1="323.5" x2="1122" y2="323.5" stroke-width="1.3"/>
<line x1="990.5" y1="291.4" x2="990.5" y2="365" stroke-width="1"/>
<line x1="996.5" y1="291.4" x2="996.5" y2="365" stroke-width="1.3"/>
<line x1="999.5" y1="291.4" x2="999.5" y2="365" stroke-width="1.3"/>
<line x1="1012.5" y1="291.4" x2="1012.5" y2="365" stroke-width="1"/>
<line x1="1015.5" y1="291.4" x2="1015.5" y2="365" stroke-width="1"/>
<line x1="1019.5" y1="291.4" x2="1019.5" y2="365" stroke-width="1.3"/>
<line x1="1024.5" y1="291.4" x2="1024.5" y2="365" stroke-width="1"/>
<line x1="1033.5" y1="291.4" x2="1033.5" y2="365" stroke-width="1.4"/>
<line x1="1042.5" y1="291.4" x2="1042.5" y2="365" stroke-width="1.4"/>
<line x1="1050.5" y1="291.4" x2="1050.5" y2="365" stroke-width="1"/>
<line x1="1053.5" y1="291.4" x2="1053.5" y2="365" stroke-width="1.4"/>
<line x1="1056.5" y1="291.4" x2="1056.5" y2="365" stroke-width="1"/>
<line x1="1063.5" y1="291.4" x2="1063.5" y2="365" stroke-width="1.4"/>
<line x1="1070.5" y1="291.4" x2="1070.5" y2="365" stroke-width="1"/>
<line x1="1078.5" y1="291.4" x2="1078.5" y2="365" stroke-width="1"/>
<line x1="1087.5" y1="291.4" x2="1087.5" y2="365" stroke-width="1.3"/>
<line x1="1091.5" y1="291.4" x2="1091.5" y2="365" stroke-width="1"/>
<line x1="1106.5" y1="291.4" x2="1106.5" y2="365" stroke-width="1.3"/>
<line x1="1109.5" y1="291.4" x2="1109.5" y2="365" stroke-width="1.3"/>
<line x1="1114.5" y1="291.4" x2="1114.5" y2="365" stroke-width="1"/>
<path d="M999.5,294.5 L1009,294.5 L1005.3,309 L1008,314.3 L1097,314.3 L1100.5,309 L1096.5,294.5 L1106,294.5" stroke-width="2" fill="none"/>
<line x1="1006.6" y1="323" x2="1098.7" y2="323" stroke-width="2.4"/>
<line x1="1005" y1="323" x2="1005" y2="364" stroke-width="3"/>
<line x1="1100" y1="323" x2="1100" y2="364" stroke-width="3"/>
<line x1="1005" y1="363" x2="1100" y2="363" stroke-width="1.6"/>
<polygon points="1014.7,340.5 1019,335.8 1023.3,340.5 1019,345.2" stroke-width="1" fill="#000"/>
<polygon points="1039.3,340.5 1043.6,335.8 1047.9,340.5 1043.6,345.2" stroke-width="1" fill="#000"/>
<polygon points="1058.7,340.5 1063,335.8 1067.3,340.5 1063,345.2" stroke-width="1" fill="#000"/>
<polygon points="1083.4,340.5 1087.7,335.8 1092,340.5 1087.7,345.2" stroke-width="1" fill="#000"/>
<rect x="1028" y="351.8" width="9" height="6.5" rx="1.5" fill="#000" stroke="none"/>
<rect x="1048.2" y="351.8" width="9" height="6.5" rx="1.5" fill="#000" stroke="none"/>
<rect x="1068" y="351.8" width="9" height="6.5" rx="1.5" fill="#000" stroke="none"/>
<rect x="1026.7" y="331" width="7.8" height="14.5" rx="0" stroke-width="1.8" fill="none"/>
<rect x="1072" y="331" width="7.8" height="14.5" rx="0" stroke-width="1.8" fill="none"/>
<rect x="1047.5" y="329" width="11.5" height="6.5" rx="1.5" fill="#000" stroke="none"/>
<rect x="1012.5" y="349" width="4" height="10.5" stroke="none" fill="#000"/>
<rect x="1090" y="349" width="4" height="10.5" stroke="none" fill="#000"/>
<line x1="1013" y1="309.2" x2="1013" y2="314" stroke-width="2"/>
<line x1="1033" y1="305" x2="1033" y2="314" stroke-width="2"/>
<line x1="1071" y1="305" x2="1071" y2="314" stroke-width="2"/>
<line x1="1092" y1="309.2" x2="1092" y2="314" stroke-width="2"/>
<path d="M988.6,361 Q989,365.8 993,365.8 L1112,365.8 Q1116.3,365.8 1116.3,361" stroke-width="2.2" fill="none"/>
<rect x="984" y="333.6" width="4.3" height="29.8" rx="0" stroke-width="1.2" fill="none"/>
<rect x="1117.5" y="333.6" width="4" height="29.8" rx="0" stroke-width="1.2" fill="none"/>
<line x1="1001.5" y1="291.4" x2="1001.5" y2="365" stroke-width="2.6"/>
<line x1="1013.5" y1="365" x2="1013.5" y2="380" stroke-width="1"/>
<line x1="1016.5" y1="365" x2="1016.5" y2="380" stroke-width="1"/>
<line x1="1018.5" y1="365" x2="1018.5" y2="380" stroke-width="1"/>
<line x1="1033.5" y1="365" x2="1033.5" y2="380" stroke-width="1"/>
<line x1="1042.5" y1="365" x2="1042.5" y2="380" stroke-width="1"/>
<line x1="1053.5" y1="365" x2="1053.5" y2="381" stroke-width="1"/>
<line x1="1062.5" y1="365" x2="1062.5" y2="380" stroke-width="1"/>
<line x1="1072.5" y1="365" x2="1072.5" y2="380" stroke-width="1"/>
<line x1="1087.5" y1="365" x2="1087.5" y2="380" stroke-width="1"/>
<line x1="1091.5" y1="365" x2="1091.5" y2="380" stroke-width="1"/>
<line x1="929.3" y1="309.5" x2="977.6" y2="309.5" stroke-width="1"/>
<line x1="929.3" y1="355.5" x2="977.6" y2="355.5" stroke-width="1"/>
<line x1="948.3" y1="340.5" x2="977.6" y2="340.5" stroke-width="1"/>
<line x1="964" y1="323.5" x2="977.6" y2="323.5" stroke-width="1"/>
<line x1="979.6" y1="309" x2="988" y2="309" stroke-width="2"/>
<line x1="979.6" y1="355" x2="988" y2="355" stroke-width="2"/>
<line x1="979.6" y1="340" x2="988" y2="340" stroke-width="2"/>
<line x1="979.6" y1="323" x2="988" y2="323" stroke-width="2"/>
<line x1="933.5" y1="270.2" x2="933.5" y2="355.2" stroke-width="1"/>
<polygon points="933.5,309.2 934.8,317.2 932.2,317.2" stroke="none" fill="#000"/>
<polygon points="933.5,355.2 932.2,347.2 934.8,347.2" stroke="none" fill="#000"/>
<text transform="translate(932,292.6) rotate(-90)" x="0" y="0" font-size="12.07" textLength="20.4" lengthAdjust="spacingAndGlyphs" font-weight="normal">4.70</text>
<line x1="951.5" y1="270.2" x2="951.5" y2="340.5" stroke-width="1"/>
<polygon points="951.5,309.2 952.8,317.2 950.2,317.2" stroke="none" fill="#000"/>
<polygon points="951.5,340.5 950.2,332.5 952.8,332.5" stroke="none" fill="#000"/>
<text transform="translate(950.4,292.6) rotate(-90)" x="0" y="0" font-size="12.07" textLength="20.4" lengthAdjust="spacingAndGlyphs" font-weight="normal">3.20</text>
<line x1="967.5" y1="268" x2="967.5" y2="340.5" stroke-width="1"/>
<polygon points="967.5,309.2 966.2,301.2 968.8,301.2" stroke="none" fill="#000"/>
<polygon points="967.5,323.2 968.8,331.2 966.2,331.2" stroke="none" fill="#000"/>
<text transform="translate(966.7,289.2) rotate(-90)" x="0" y="0" font-size="12.07" textLength="19" lengthAdjust="spacingAndGlyphs" font-weight="normal">1.50</text>
<text x="918.5" y="379" font-size="10.97" textLength="66.5" lengthAdjust="spacingAndGlyphs" font-weight="normal">18−0.40±0.10</text>
<line x1="917.3" y1="382.5" x2="1031" y2="382.5" stroke-width="1"/>
<polygon points="1013.7,382.5 1005.7,383.8 1005.7,381.2" stroke="none" fill="#000"/>
<polygon points="1018.6,382.5 1026.6,381.2 1026.6,383.8" stroke="none" fill="#000"/>
<line x1="1013.5" y1="365" x2="1013.5" y2="452" stroke-width="1"/>
<line x1="1018.5" y1="365" x2="1018.5" y2="436" stroke-width="1"/>
<line x1="1033.5" y1="365" x2="1033.5" y2="417" stroke-width="1"/>
<line x1="1042.5" y1="365" x2="1042.5" y2="401" stroke-width="1"/>
<line x1="1062.5" y1="365" x2="1062.5" y2="401" stroke-width="1"/>
<line x1="1072.5" y1="365" x2="1072.5" y2="417" stroke-width="1"/>
<line x1="1087.5" y1="365" x2="1087.5" y2="436" stroke-width="1"/>
<line x1="1091.5" y1="365" x2="1091.5" y2="452" stroke-width="1"/>
<text x="1105" y="393.8" font-size="10.97" textLength="33.4" lengthAdjust="spacingAndGlyphs" font-weight="normal">2−2.00</text>
<line x1="1027" y1="397.5" x2="1139.7" y2="397.5" stroke-width="1"/>
<polygon points="1042.8,397.5 1034.8,398.8 1034.8,396.2" stroke="none" fill="#000"/>
<polygon points="1062.6,397.5 1070.6,396.2 1070.6,398.8" stroke="none" fill="#000"/>
<text x="1105" y="410.8" font-size="10.97" textLength="33.4" lengthAdjust="spacingAndGlyphs" font-weight="normal">2−4.00</text>
<line x1="1033.4" y1="413.5" x2="1139.7" y2="413.5" stroke-width="1"/>
<polygon points="1033.4,413.5 1041.4,412.2 1041.4,414.8" stroke="none" fill="#000"/>
<polygon points="1072.5,413.5 1064.5,414.8 1064.5,412.2" stroke="none" fill="#000"/>
<text x="1105" y="429.5" font-size="10.97" textLength="33.4" lengthAdjust="spacingAndGlyphs" font-weight="normal">2−7.00</text>
<line x1="1018.6" y1="432.5" x2="1139.7" y2="432.5" stroke-width="1"/>
<polygon points="1018.6,432.5 1026.6,431.2 1026.6,433.8" stroke="none" fill="#000"/>
<polygon points="1087.8,432.5 1079.8,433.8 1079.8,431.2" stroke="none" fill="#000"/>
<text x="1105" y="446" font-size="10.97" textLength="33.4" lengthAdjust="spacingAndGlyphs" font-weight="normal">2−8.00</text>
<line x1="1013.7" y1="449.5" x2="1139.7" y2="449.5" stroke-width="1"/>
<polygon points="1013.7,449.5 1021.7,448.2 1021.7,450.8" stroke="none" fill="#000"/>
<polygon points="1091.5,449.5 1083.5,450.8 1083.5,448.2" stroke="none" fill="#000"/>
<circle cx="1163" cy="270.5" r="8.6" stroke-width="1" fill="none"/>
<text x="1159.7" y="275.1" font-size="12.76" textLength="6.6" lengthAdjust="spacingAndGlyphs" font-weight="normal">7</text>
<line x1="1154.4" y1="270.5" x2="1148.4" y2="270.5" stroke-width="1.3"/>
<line x1="1148.4" y1="270.8" x2="1118.2" y2="301" stroke-width="1"/>
<line x1="1100.4" y1="318.2" x2="1112.7" y2="307.4" stroke-width="1"/>
<line x1="87.5" y1="525" x2="87.5" y2="563" stroke-width="1"/>
<line x1="209.5" y1="525" x2="209.5" y2="563" stroke-width="1"/>
<line x1="87.1" y1="530.5" x2="209.5" y2="530.5" stroke-width="1"/>
<polygon points="87.1,530.5 95.1,529.2 95.1,531.8" stroke="none" fill="#000"/>
<polygon points="209.5,530.5 201.5,531.8 201.5,529.2" stroke="none" fill="#000"/>
<text x="115" y="528.8" font-size="11.66" textLength="66.7" lengthAdjust="spacingAndGlyphs" font-weight="normal">2−12.50±0.10</text>
<line x1="148.5" y1="544" x2="148.5" y2="707" stroke-width="1.4" stroke-dasharray="14 3 3 3"/>
<line x1="16.7" y1="562.5" x2="100" y2="562.5" stroke-width="1"/>
<line x1="35" y1="567.5" x2="100" y2="567.5" stroke-width="1"/>
<line x1="53.8" y1="592.5" x2="87" y2="592.5" stroke-width="1"/>
<line x1="53.8" y1="674.5" x2="233.6" y2="674.5" stroke-width="1"/>
<line x1="35" y1="698.5" x2="100" y2="698.5" stroke-width="1"/>
<line x1="16.7" y1="701.5" x2="100" y2="701.5" stroke-width="1"/>
<line x1="20.5" y1="562.7" x2="20.5" y2="701.7" stroke-width="1"/>
<polygon points="20.5,562.7 21.8,570.7 19.2,570.7" stroke="none" fill="#000"/>
<polygon points="20.5,701.7 19.2,693.7 21.8,693.7" stroke="none" fill="#000"/>
<text transform="translate(18.5,648) rotate(-90)" x="0" y="0" font-size="12.07" textLength="32.7" lengthAdjust="spacingAndGlyphs" font-weight="normal">(14.42)</text>
<line x1="39.5" y1="567" x2="39.5" y2="698" stroke-width="1"/>
<polygon points="39.5,567 40.8,575 38.2,575" stroke="none" fill="#000"/>
<polygon points="39.5,698 38.2,690 40.8,690" stroke="none" fill="#000"/>
<text transform="translate(37,646.6) rotate(-90)" x="0" y="0" font-size="11.66" textLength="25.6" lengthAdjust="spacingAndGlyphs" font-weight="normal">13.62</text>
<line x1="57.5" y1="592.4" x2="57.5" y2="674" stroke-width="1"/>
<polygon points="57.5,592.4 58.8,600.4 56.2,600.4" stroke="none" fill="#000"/>
<polygon points="57.5,674 56.2,666 58.8,666" stroke="none" fill="#000"/>
<text transform="translate(55.4,645.2) rotate(-90)" x="0" y="0" font-size="11.66" textLength="19.9" lengthAdjust="spacingAndGlyphs" font-weight="normal">8.50</text>
<line x1="211" y1="591.5" x2="233.6" y2="591.5" stroke-width="1"/>
<path d="M85,569 Q85,562.6 91.5,562.6 L205.5,562.6 Q212,562.6 212,569 L212,696 Q212,702.7 205.5,702.7 L91.5,702.7 Q85,702.7 85,696 Z" stroke-width="1.6" fill="none"/>
<line x1="92.6" y1="563" x2="201.8" y2="563" stroke-width="2.2"/>
<path d="M88,696 L88,572 Q88,566.2 94,566.2 L203,566.2 Q209,566.2 209,572 L209,696" stroke-width="1.3" fill="none"/>
<line x1="98.5" y1="573" x2="198.3" y2="573" stroke-width="2"/>
<path d="M92.6,609.6 L92.6,580 Q92.6,575 97.5,573.5" stroke-width="1.1" fill="none"/>
<path d="M204.2,609.6 L204.2,580 Q204.2,575 199.5,573.5" stroke-width="1.1" fill="none"/>
<rect x="97.9" y="577.3" width="100.4" height="12.5" rx="0" stroke-width="1.3" fill="none"/>
<line x1="97.9" y1="590" x2="198.3" y2="590" stroke-width="2.2"/>
<rect x="93.8" y="590.5" width="10.6" height="18.5" rx="0" stroke-width="1.1" fill="none"/>
<rect x="192.4" y="590.5" width="10.6" height="18.5" rx="0" stroke-width="1.1" fill="none"/>
<line x1="92.6" y1="609.5" x2="105" y2="609.5" stroke-width="1"/>
<line x1="192" y1="609.5" x2="204.2" y2="609.5" stroke-width="1"/>
<line x1="97.3" y1="616" x2="199.5" y2="616" stroke-width="2"/>
<path d="M110.2,616.3 L111.7,609.5 L126.3,609.5 L127.8,616.3" stroke-width="1.2" fill="none"/>
<line x1="112" y1="610" x2="112" y2="616" stroke-width="1.8"/>
<line x1="126" y1="610" x2="126" y2="616" stroke-width="1.8"/>
<path d="M168.9,616.3 L170.4,609.5 L183.9,609.5 L185.4,616.3" stroke-width="1.2" fill="none"/>
<line x1="171" y1="610" x2="171" y2="616" stroke-width="1.8"/>
<line x1="183" y1="610" x2="183" y2="616" stroke-width="1.8"/>
<path d="M143.1,616.5 L144,611.4 L152.2,611.4 L153.1,616.5" stroke-width="1.1" fill="none"/>
<path d="M97,618.4 L199.5,618.4 L202,621.9 L95,621.9 Z" stroke-width="1.1" fill="none"/>
<path d="M88,622.5 L209,622.5 Q215.9,622.5 215.9,628 L215.9,640 Q215.9,645.5 209,645.5 L88,645.5 Q80.3,645.5 80.3,640 L80.3,628 Q80.3,622.5 88,622.5 Z" stroke-width="1.3" fill="none"/>
<path d="M95,645.5 L202,645.5 L199.5,649.6 L97,649.6 Z" fill="#999" stroke="#000" stroke-width="1"/>
<line x1="97.3" y1="652.5" x2="199.5" y2="652.5" stroke-width="1"/>
<path d="M112.1,649.6 L113.6,655.5 L124.2,655.5 L125.7,649.6" stroke-width="1.2" fill="none"/>
<path d="M112.1,699 L113.6,694 L124.2,694 L125.7,699" stroke-width="1.2" fill="none"/>
<path d="M171.4,649.6 L172.9,655.5 L183.5,655.5 L185,649.6" stroke-width="1.2" fill="none"/>
<path d="M171.4,699 L172.9,694 L183.5,694 L185,699" stroke-width="1.2" fill="none"/>
<path d="M143.1,649.6 L144,654.5 L152.2,654.5 L153.1,649.6" stroke-width="1.1" fill="none"/>
<path d="M94.8,671.8 L94.8,663 Q94.8,657.6 100,657.6 L196.5,657.6 Q201.7,657.6 201.7,663 L201.7,671.8" stroke-width="1.4" fill="none"/>
<line x1="98" y1="659.5" x2="199" y2="659.5" stroke-width="1"/>
<line x1="94.8" y1="672.5" x2="201.7" y2="672.5" stroke-width="1.4"/>
<line x1="94.8" y1="674.5" x2="201.7" y2="674.5" stroke-width="1.4"/>
<line x1="88" y1="699.5" x2="209" y2="699.5" stroke-width="1.3"/>
<rect x="88" y="669.3" width="3.5" height="10" rx="0" stroke-width="1.1" fill="none"/>
<rect x="205.5" y="669.3" width="3.5" height="10" rx="0" stroke-width="1.1" fill="none"/>
<rect x="79.8" y="575.7" width="5" height="29.6" rx="0" stroke-width="1" fill="none"/>
<rect x="212.3" y="575.7" width="5" height="29.6" rx="0" stroke-width="1" fill="none"/>
<polygon points="108.5,592.5 119.5,592.5 119.5,601.4 108.5,601.4" stroke-width="1.2" fill="none"/>
<polygon points="111.5,599.5 114,595 116.5,599.5" stroke-width="1" fill="#000"/>
<polygon points="132.2,592.5 143.2,592.5 143.2,601.4 132.2,601.4" stroke-width="1.2" fill="none"/>
<polygon points="135.2,599.5 137.7,595 140.2,599.5" stroke-width="1" fill="#000"/>
<polygon points="152,592.5 163,592.5 163,601.4 152,601.4" stroke-width="1.2" fill="none"/>
<polygon points="155,599.5 157.5,595 160,599.5" stroke-width="1" fill="#000"/>
<polygon points="176.7,592.5 187.7,592.5 187.7,601.4 176.7,601.4" stroke-width="1.2" fill="none"/>
<polygon points="179.7,599.5 182.2,595 184.7,599.5" stroke-width="1" fill="#000"/>
<rect x="107.5" y="674.5" width="12.5" height="11.9" stroke="none" fill="#000"/>
<polygon points="111,681 113.7,677 116.5,681" stroke-width="0.8" fill="#fff"/>
<rect x="132.2" y="674.5" width="12.5" height="11.9" stroke="none" fill="#000"/>
<polygon points="135.7,681 138.4,677 141.2,681" stroke-width="0.8" fill="#fff"/>
<rect x="152" y="674.5" width="12.5" height="11.9" stroke="none" fill="#000"/>
<polygon points="155.5,681 158.2,677 161,681" stroke-width="0.8" fill="#fff"/>
<rect x="176.7" y="674.5" width="12.5" height="11.9" stroke="none" fill="#000"/>
<polygon points="180.2,681 182.9,677 185.7,681" stroke-width="0.8" fill="#fff"/>
<text x="104.9" y="586.8" font-size="9.88" textLength="5.2" lengthAdjust="spacingAndGlyphs" font-weight="bold">9</text>
<text x="124.7" y="586.8" font-size="9.88" textLength="5.2" lengthAdjust="spacingAndGlyphs" font-weight="bold">8</text>
<text x="147.4" y="586.8" font-size="9.88" textLength="5.2" lengthAdjust="spacingAndGlyphs" font-weight="bold">7</text>
<text x="162.2" y="586.8" font-size="9.88" textLength="5.2" lengthAdjust="spacingAndGlyphs" font-weight="bold">6</text>
<text x="184" y="586.8" font-size="9.88" textLength="5.2" lengthAdjust="spacingAndGlyphs" font-weight="bold">5</text>
<text x="108.9" y="609.3" font-size="9.88" textLength="5.2" lengthAdjust="spacingAndGlyphs" font-weight="bold">1</text>
<text x="134.6" y="609.3" font-size="9.88" textLength="5.2" lengthAdjust="spacingAndGlyphs" font-weight="bold">2</text>
<text x="154.9" y="609.3" font-size="9.88" textLength="5.2" lengthAdjust="spacingAndGlyphs" font-weight="bold">3</text>
<text x="179" y="609.3" font-size="9.88" textLength="5.2" lengthAdjust="spacingAndGlyphs" font-weight="bold">4</text>
<text x="105.5" y="670" font-size="9.88" textLength="10" lengthAdjust="spacingAndGlyphs" font-weight="bold">18</text>
<text x="124.2" y="670" font-size="9.88" textLength="10" lengthAdjust="spacingAndGlyphs" font-weight="bold">17</text>
<text x="142" y="670" font-size="9.88" textLength="10" lengthAdjust="spacingAndGlyphs" font-weight="bold">16</text>
<text x="160.8" y="670" font-size="9.88" textLength="10" lengthAdjust="spacingAndGlyphs" font-weight="bold">15</text>
<text x="178.6" y="670" font-size="9.88" textLength="10" lengthAdjust="spacingAndGlyphs" font-weight="bold">14</text>
<text x="106.5" y="692.8" font-size="9.88" textLength="10" lengthAdjust="spacingAndGlyphs" font-weight="bold">10</text>
<text x="130.2" y="692.8" font-size="9.88" textLength="10" lengthAdjust="spacingAndGlyphs" font-weight="bold">11</text>
<text x="151" y="692.8" font-size="9.88" textLength="10" lengthAdjust="spacingAndGlyphs" font-weight="bold">12</text>
<text x="175.6" y="692.8" font-size="9.88" textLength="10" lengthAdjust="spacingAndGlyphs" font-weight="bold">13</text>
<line x1="71" y1="644" x2="71" y2="731" stroke-width="1.8"/>
<line x1="73.5" y1="644" x2="73.5" y2="731" stroke-width="1.4"/>
<line x1="72.5" y1="731" x2="72.5" y2="753.6" stroke-width="1"/>
<path d="M74,648 L84.8,648" stroke-width="1" fill="none"/>
<path d="M212.3,648 L222,648" stroke-width="1" fill="none"/>
<circle cx="238.5" cy="522.5" r="7.8" stroke-width="1" fill="none"/>
<text x="235.2" y="527.1" font-size="12.76" textLength="6.6" lengthAdjust="spacingAndGlyphs" font-weight="normal">2</text>
<circle cx="238.5" cy="543.3" r="7.8" stroke-width="1" fill="none"/>
<text x="235.2" y="547.9" font-size="12.76" textLength="6.6" lengthAdjust="spacingAndGlyphs" font-weight="normal">3</text>
<circle cx="242.7" cy="595" r="7.8" stroke-width="1" fill="none"/>
<text x="239.4" y="599.6" font-size="12.76" textLength="6.6" lengthAdjust="spacingAndGlyphs" font-weight="normal">4</text>
<circle cx="242.7" cy="630.4" r="7.8" stroke-width="1" fill="none"/>
<text x="239.4" y="635" font-size="12.76" textLength="6.6" lengthAdjust="spacingAndGlyphs" font-weight="normal">5</text>
<circle cx="242.4" cy="736" r="7.8" stroke-width="1" fill="none"/>
<text x="239.1" y="740.6" font-size="12.76" textLength="6.6" lengthAdjust="spacingAndGlyphs" font-weight="normal">6</text>
<line x1="230.7" y1="522.5" x2="226" y2="522.5" stroke-width="1"/>
<line x1="226" y1="522.5" x2="193" y2="566" stroke-width="1"/>
<line x1="230.7" y1="543.5" x2="228" y2="543.5" stroke-width="1"/>
<line x1="228" y1="543.3" x2="201" y2="572" stroke-width="1"/>
<line x1="234.9" y1="592" x2="220" y2="592" stroke-width="1.6"/>
<line x1="224" y1="595" x2="188" y2="632" stroke-width="1"/>
<polygon points="188,632 192.65,625.36 194.51,627.17" stroke="none" fill="#000"/>
<line x1="234.9" y1="630.5" x2="230" y2="630.5" stroke-width="1"/>
<line x1="230" y1="630.4" x2="186" y2="670" stroke-width="1"/>
<line x1="234" y1="736.5" x2="230" y2="736.5" stroke-width="1"/>
<line x1="230" y1="736" x2="188" y2="686" stroke-width="1"/>
<line x1="210" y1="567.5" x2="274" y2="567.5" stroke-width="1"/>
<line x1="210" y1="617.5" x2="274" y2="617.5" stroke-width="1"/>
<line x1="269.5" y1="480" x2="269.5" y2="617" stroke-width="1"/>
<polygon points="269.5,567.1 270.8,575.1 268.2,575.1" stroke="none" fill="#000"/>
<polygon points="269.5,617 268.2,609 270.8,609" stroke="none" fill="#000"/>
<text transform="translate(268,540.5) rotate(-90)" x="0" y="0" font-size="12.07" textLength="59.5" lengthAdjust="spacingAndGlyphs" font-weight="normal">2−5.12±0.10</text>
<line x1="228.5" y1="666.5" x2="292.4" y2="666.5" stroke-width="1"/>
<line x1="235.6" y1="674.5" x2="292.4" y2="674.5" stroke-width="1"/>
<line x1="288.5" y1="624.7" x2="288.5" y2="690" stroke-width="1"/>
<polygon points="288.5,666 287.2,658 289.8,658" stroke="none" fill="#000"/>
<polygon points="288.5,674.4 289.8,682.4 287.2,682.4" stroke="none" fill="#000"/>
<text transform="translate(288.1,646) rotate(-90)" x="0" y="0" font-size="11.66" textLength="22.7" lengthAdjust="spacingAndGlyphs" font-weight="normal">0.85</text>
<line x1="224" y1="643" x2="224" y2="752" stroke-width="2.2"/>
<line x1="212" y1="674" x2="232.8" y2="674" stroke-width="2"/>
<text x="99.4" y="726" font-size="11.52" textLength="62.7" lengthAdjust="spacingAndGlyphs" font-weight="normal">2−0.30±0.05</text>
<line x1="55" y1="728.5" x2="163.8" y2="728.5" stroke-width="1"/>
<polygon points="70.1,728.5 62.1,729.8 62.1,727.2" stroke="none" fill="#000"/>
<polygon points="74.3,728.5 82.3,727.2 82.3,729.8" stroke="none" fill="#000"/>
<text x="118.6" y="746.9" font-size="11.52" textLength="53.6" lengthAdjust="spacingAndGlyphs" font-weight="normal">15.60±0.20</text>
<line x1="72.3" y1="748.5" x2="224" y2="748.5" stroke-width="1"/>
<polygon points="72.3,748.5 80.3,747.2 80.3,749.8" stroke="none" fill="#000"/>
<polygon points="224,748.5 216,749.8 216,747.2" stroke="none" fill="#000"/>
<line x1="358.5" y1="540" x2="358.5" y2="800" stroke-width="1"/>
<line x1="589.5" y1="540" x2="589.5" y2="565" stroke-width="1"/>
<line x1="358.6" y1="545.5" x2="589.7" y2="545.5" stroke-width="1"/>
<polygon points="358.6,545.5 366.6,544.2 366.6,546.8" stroke="none" fill="#000"/>
<polygon points="589.7,545.5 581.7,546.8 581.7,544.2" stroke="none" fill="#000"/>
<text x="457.5" y="542.5" font-size="11.66" textLength="20.5" lengthAdjust="spacingAndGlyphs" font-weight="normal">23.6</text>
<line x1="358.6" y1="564.5" x2="584.7" y2="564.5" stroke-width="1.4"/>
<line x1="358.6" y1="571.5" x2="584.7" y2="571.5" stroke-width="1"/>
<line x1="358.6" y1="704" x2="506" y2="704" stroke-width="1.6"/>
<line x1="358.6" y1="696.5" x2="499.4" y2="696.5" stroke-width="1"/>
<line x1="358.5" y1="564.2" x2="358.5" y2="703.5" stroke-width="1.4"/>
<line x1="587" y1="562.9" x2="587" y2="609.2" stroke-width="4.2"/>
<line x1="584.5" y1="609" x2="584.5" y2="656.5" stroke-width="1.3"/>
<line x1="588.5" y1="609" x2="588.5" y2="656.5" stroke-width="1.4"/>
<line x1="552" y1="562.5" x2="623.3" y2="562.5" stroke-width="1"/>
<line x1="556" y1="562.5" x2="584.7" y2="562.5" stroke-width="1"/>
<path d="M555.8,576.5 L580.5,576.5 L584.3,580.5 L584.3,603.5 L580.5,608 L555.8,608 Z" stroke-width="1.7" fill="none"/>
<path d="M555.8,580.2 L541,580.2 Q537.3,580.2 537.3,584 L537.3,599 Q537.3,603 541,603 L555.8,603" stroke-width="1.7" fill="none"/>
<path d="M588.6,656.5 L566,656.5 Q556,656.5 556,646 L556,618 Q556,609.6 564,609.6 L584.3,609.6" stroke-width="1.6" fill="none"/>
<rect x="565.5" y="629.7" width="11.5" height="10.5" rx="1.5" stroke-width="1.6" fill="none"/>
<line x1="565.5" y1="633.5" x2="577" y2="633.5" stroke-width="1.3"/>
<line x1="565.5" y1="636.5" x2="577" y2="636.5" stroke-width="1.3"/>
<circle cx="630.2" cy="532" r="7.6" stroke-width="1" fill="none"/>
<text x="626.9" y="536.6" font-size="12.76" textLength="6.6" lengthAdjust="spacingAndGlyphs" font-weight="normal">8</text>
<line x1="622.6" y1="532.5" x2="614.6" y2="532.5" stroke-width="1"/>
<line x1="614.6" y1="532" x2="589.8" y2="593.2" stroke-width="1"/>
<polygon points="589.8,593.2 591.6,585.3 594.01,586.27" stroke="none" fill="#000"/>
<path d="M437,580.9 Q440,581 440,583 Q440,585 437,585.5 L383,591.5 L383,595 L437,601.5 Q440,602 440,604 Q440,606 437,606 L378,601.5 Q373,601 373,596 L373,589 Q373,584 378,583.7 Z" stroke-width="1.4" fill="none"/>
<line x1="401.5" y1="585" x2="401.5" y2="599" stroke-width="1.3"/>
<line x1="407.5" y1="584" x2="407.5" y2="600" stroke-width="1.3"/>
<line x1="404.5" y1="584.5" x2="404.5" y2="599.5" stroke-width="1"/>
<path d="M437,661.4 Q440,661.5 440,663.5 Q440,665.5 437,666 L383,672 L383,675.5 L437,682 Q440,682.5 440,684.5 Q440,686.5 437,686.5 L378,682 Q373,681.5 373,676.5 L373,669.5 Q373,664.5 378,664.2 Z" stroke-width="1.4" fill="none"/>
<line x1="401.5" y1="665.5" x2="401.5" y2="679.5" stroke-width="1.3"/>
<line x1="407.5" y1="664.5" x2="407.5" y2="680.5" stroke-width="1.3"/>
<line x1="404.5" y1="665" x2="404.5" y2="680" stroke-width="1"/>
<path d="M358.6,622 L368,623 L380,626 L380,641 L368,643 L358.6,644" stroke-width="1.2" fill="none"/>
<rect x="380.7" y="623" width="19.1" height="20.1" rx="3" stroke-width="1.4" fill="none"/>
<path d="M384,627 L396,627 L396,637 Q390,641 384,637 Z" stroke-width="1.1" fill="none"/>
<line x1="320" y1="633.5" x2="421.8" y2="633.5" stroke-width="1"/>
<path d="M474.5,650 L474.5,597 Q474.5,593.3 471,593.3 L458,593.3 Q455,593.3 455,597 L455,605 Q455,610 446,617 Q443,619 443,622 L443,651 Q443,654.6 446,654.6" stroke-width="1.1" fill="none"/>
<line x1="461.5" y1="594" x2="461.5" y2="630" stroke-width="1"/>
<line x1="443" y1="620.5" x2="461" y2="620.5" stroke-width="1"/>
<line x1="461" y1="611.5" x2="474.5" y2="611.5" stroke-width="1"/>
<line x1="461" y1="634.5" x2="474.5" y2="634.5" stroke-width="1"/>
<rect x="447.7" y="647" width="22" height="19" rx="0" stroke-width="1.4" fill="none"/>
<line x1="447.7" y1="652.5" x2="469.7" y2="652.5" stroke-width="1"/>
<path d="M457.3,666 L469.7,666 L469.7,681 Q469.7,687.2 463.5,687.2 Q457.3,687.2 457.3,681 Z" fill="#000" stroke="#000" stroke-width="1"/>
<line x1="463.5" y1="625" x2="463.5" y2="666" stroke-width="1"/>
<path d="M524,610.6 L498,610.6 Q491.7,610.6 491.7,617 L491.7,629 Q491.7,635.3 498,635.3 L524,635.3 Q526.6,635.3 526.6,632.6 Q526.6,630 523.5,629.6 L523.5,616.3 Q526.6,616 526.6,613.3 Q526.6,610.6 524,610.6" stroke-width="1.5" fill="none"/>
<line x1="497" y1="613" x2="525" y2="613" stroke-width="1.7"/>
<line x1="497" y1="616" x2="523.5" y2="616" stroke-width="1.7"/>
<line x1="497" y1="630" x2="523.5" y2="630" stroke-width="1.7"/>
<line x1="497" y1="633" x2="525" y2="633" stroke-width="1.7"/>
<line x1="498" y1="612" x2="498" y2="634" stroke-width="1.9"/>
<line x1="523" y1="616" x2="523" y2="630" stroke-width="1.7"/>
<path d="M499.5,702.8 L499.5,680 Q499.5,677.2 503,677.2 L511,677.2 Q513.4,677 513.4,674 L513,660 Q513,656.9 516,656.9 L523,656.9 Q525.8,656.9 525.8,660 L526.4,666.5" stroke-width="1.6" fill="none"/>
<line x1="514.2" y1="667" x2="585.2" y2="667" stroke-width="2.2"/>
<line x1="515" y1="666.8" x2="515" y2="702.8" stroke-width="2.2"/>
<path d="M499.5,693 Q500,690.6 503,690.6 L514.2,690.6" stroke-width="1.6" fill="none"/>
<line x1="499.5" y1="699" x2="514.2" y2="699" stroke-width="1.6"/>
<line x1="499.5" y1="703" x2="514.2" y2="703" stroke-width="1.6"/>
<path d="M547.6,666.8 L547.6,660 Q547.6,656.4 551,656.4 L585.2,656.4 L585.2,666.8" stroke-width="1.6" fill="none"/>
<path d="M532.9,666 Q532.9,661.2 536.8,661.2 Q540.6,661.2 540.6,666" stroke-width="1.2" fill="none"/>
<path d="M525,668 Q525,666 529,666 Q533.3,666 533.3,668 L533,683 Q532.5,686.8 529,686.8 Q525.5,686.8 525.2,683 Z" fill="#000" stroke="#000" stroke-width="1"/>
<path d="M539.8,668 Q539.8,666 544,666 Q548.9,666 548.9,668 L548.6,683 Q548,686.8 544.2,686.8 Q540.2,686.8 540,683 Z" fill="#000" stroke="#000" stroke-width="1"/>
<line x1="537" y1="666" x2="537" y2="688" stroke-width="1.6" stroke-dasharray="2.5 1.5"/>
<rect x="560.6" y="657.3" width="3" height="32.5" stroke="none" fill="#000"/>
<rect x="575.7" y="657.3" width="3" height="33" stroke="none" fill="#000"/>
<line x1="577.5" y1="690" x2="577.5" y2="720" stroke-width="1"/>
<line x1="537" y1="643.9" x2="537" y2="666" stroke-width="1.6"/>
<line x1="537" y1="688" x2="537" y2="797" stroke-width="1.5"/>
<line x1="590" y1="665.5" x2="678.6" y2="665.5" stroke-width="1"/>
<line x1="560" y1="685.5" x2="661.3" y2="685.5" stroke-width="1"/>
<line x1="520" y1="703.5" x2="678.6" y2="703.5" stroke-width="1"/>
<line x1="618.5" y1="562.2" x2="618.5" y2="665.4" stroke-width="1"/>
<polygon points="618.5,562.2 619.8,570.2 617.2,570.2" stroke="none" fill="#000"/>
<polygon points="618.5,665.4 617.2,657.4 619.8,657.4" stroke="none" fill="#000"/>
<text transform="translate(617.8,625.7) rotate(-90)" x="0" y="0" font-size="11.66" textLength="23.3" lengthAdjust="spacingAndGlyphs" font-weight="normal">10.71</text>
<line x1="638.5" y1="599.6" x2="638.5" y2="702.8" stroke-width="1"/>
<polygon points="638.5,685.5 637.2,677.5 639.8,677.5" stroke="none" fill="#000"/>
<polygon points="638.5,702.8 639.8,710.8 637.2,710.8" stroke="none" fill="#000"/>
<text transform="translate(636.8,639.1) rotate(-90)" x="0" y="0" font-size="11.66" textLength="37.9" lengthAdjust="spacingAndGlyphs" font-weight="normal">18−1.80</text>
<line x1="657.5" y1="599.6" x2="657.5" y2="702.8" stroke-width="1"/>
<polygon points="657.5,665.4 656.2,657.4 658.8,657.4" stroke="none" fill="#000"/>
<polygon points="657.5,685.5 658.8,693.5 656.2,693.5" stroke="none" fill="#000"/>
<text transform="translate(655.7,635.8) rotate(-90)" x="0" y="0" font-size="11.66" textLength="32.3" lengthAdjust="spacingAndGlyphs" font-weight="normal">4−2.00</text>
<line x1="675.5" y1="629" x2="675.5" y2="702.8" stroke-width="1"/>
<polygon points="675.5,665.4 676.8,673.4 674.2,673.4" stroke="none" fill="#000"/>
<polygon points="675.5,702.8 674.2,694.8 676.8,694.8" stroke="none" fill="#000"/>
<text transform="translate(674.2,650.2) rotate(-90)" x="0" y="0" font-size="11.66" textLength="20" lengthAdjust="spacingAndGlyphs" font-weight="normal">3.71</text>
<line x1="325.6" y1="665.5" x2="447" y2="665.5" stroke-width="1"/>
<line x1="341" y1="685.5" x2="447" y2="685.5" stroke-width="1"/>
<line x1="325.6" y1="632.5" x2="358.6" y2="632.5" stroke-width="1"/>
<line x1="328.5" y1="632.5" x2="328.5" y2="666.3" stroke-width="1"/>
<polygon points="328.5,632.5 329.8,640.5 327.2,640.5" stroke="none" fill="#000"/>
<polygon points="328.5,666.3 327.2,658.3 329.8,658.3" stroke="none" fill="#000"/>
<text transform="translate(328,700) rotate(-90)" x="0" y="0" font-size="12.07" textLength="21" lengthAdjust="spacingAndGlyphs" font-weight="normal">3.40</text>
<line x1="345.5" y1="651.5" x2="345.5" y2="741.5" stroke-width="1"/>
<polygon points="345.5,665.4 344.2,657.4 346.8,657.4" stroke="none" fill="#000"/>
<polygon points="345.5,685.5 346.8,693.5 344.2,693.5" stroke="none" fill="#000"/>
<text transform="translate(344,741.5) rotate(-90)" x="0" y="0" font-size="12.07" textLength="34.5" lengthAdjust="spacingAndGlyphs" font-weight="normal">2−2.00</text>
<line x1="447.5" y1="687" x2="447.5" y2="745" stroke-width="1"/>
<line x1="458.5" y1="687" x2="458.5" y2="722" stroke-width="1"/>
<line x1="463.5" y1="687" x2="463.5" y2="797" stroke-width="1"/>
<line x1="469.5" y1="687" x2="469.5" y2="745" stroke-width="1"/>
<line x1="514.5" y1="687" x2="514.5" y2="745" stroke-width="1"/>
<line x1="524.5" y1="687" x2="524.5" y2="760" stroke-width="1"/>
<line x1="549.5" y1="687" x2="549.5" y2="760" stroke-width="1"/>
<text x="372.3" y="718" font-size="11.66" textLength="58.7" lengthAdjust="spacingAndGlyphs" font-weight="normal">2−1.10±0.10</text>
<line x1="370.6" y1="720.5" x2="483" y2="720.5" stroke-width="1"/>
<polygon points="458.2,720.5 450.2,721.8 450.2,719.2" stroke="none" fill="#000"/>
<polygon points="469.7,720.5 477.7,719.2 477.7,721.8" stroke="none" fill="#000"/>
<text x="400" y="737.4" font-size="11.66" textLength="32.9" lengthAdjust="spacingAndGlyphs" font-weight="normal">2−2.20</text>
<line x1="398.3" y1="740.5" x2="469.2" y2="740.5" stroke-width="1"/>
<polygon points="447.7,740.5 455.7,739.2 455.7,741.8" stroke="none" fill="#000"/>
<polygon points="469.7,740.5 461.7,741.8 461.7,739.2" stroke="none" fill="#000"/>
<text x="558.5" y="737.4" font-size="11.66" textLength="20.8" lengthAdjust="spacingAndGlyphs" font-weight="normal">2.27</text>
<line x1="514" y1="740.5" x2="580" y2="740.5" stroke-width="1"/>
<polygon points="514,740.5 522,739.2 522,741.8" stroke="none" fill="#000"/>
<polygon points="536.8,740.5 528.8,741.8 528.8,739.2" stroke="none" fill="#000"/>
<text x="566" y="754" font-size="11.66" textLength="62.5" lengthAdjust="spacingAndGlyphs" font-weight="normal">2−2.48±0.10</text>
<line x1="524.6" y1="758.5" x2="630" y2="758.5" stroke-width="1"/>
<polygon points="524.6,758.5 532.6,757.2 532.6,759.8" stroke="none" fill="#000"/>
<polygon points="549.2,758.5 541.2,759.8 541.2,757.2" stroke="none" fill="#000"/>
<text x="604.5" y="717.7" font-size="11.66" textLength="66.8" lengthAdjust="spacingAndGlyphs" font-weight="normal">18−0.20±0.05</text>
<line x1="559.2" y1="719.5" x2="673.4" y2="719.5" stroke-width="1"/>
<polygon points="575.5,719.5 567.5,720.8 567.5,718.2" stroke="none" fill="#000"/>
<polygon points="579,719.5 587,718.2 587,720.8" stroke="none" fill="#000"/>
<text x="490" y="776.5" font-size="11.66" textLength="20.8" lengthAdjust="spacingAndGlyphs" font-weight="normal">7.50</text>
<line x1="463" y1="779.5" x2="536.7" y2="779.5" stroke-width="1"/>
<polygon points="463,779.5 471,778.2 471,780.8" stroke="none" fill="#000"/>
<polygon points="536.7,779.5 528.7,780.8 528.7,778.2" stroke="none" fill="#000"/>
<text x="426" y="791" font-size="11.66" textLength="26" lengthAdjust="spacingAndGlyphs" font-weight="normal">18.25</text>
<line x1="358.6" y1="795.5" x2="536.7" y2="795.5" stroke-width="1"/>
<polygon points="358.6,795.5 366.6,794.2 366.6,796.8" stroke="none" fill="#000"/>
<polygon points="536.7,795.5 528.7,796.8 528.7,794.2" stroke="none" fill="#000"/>
<line x1="792.5" y1="566" x2="792.5" y2="726.6" stroke-width="1.4" stroke-dasharray="14 3 3 3"/>
<path d="M728.8,669.4 L728.8,586 Q728.8,574.2 738,574.2 L848,574.2 Q857.6,574.2 857.6,586 L857.6,669.4" stroke-width="1.3" fill="none"/>
<path d="M732.6,669.4 L732.6,587 Q732.6,578 739,578 L847,578 Q853.8,578 853.8,587 L853.8,669.4" stroke-width="1.1" fill="none"/>
<line x1="726.3" y1="669.5" x2="860" y2="669.5" stroke-width="1.3"/>
<rect x="764.6" y="594.7" width="8.6" height="57.3" rx="4.3" stroke-width="1.3" fill="none"/>
<rect x="766.8" y="597.5" width="4.2" height="51.7" rx="2.1" stroke-width="0.9" fill="none"/>
<rect x="813.8" y="594.7" width="8.6" height="57.3" rx="4.3" stroke-width="1.3" fill="none"/>
<rect x="816" y="597.5" width="4.2" height="51.7" rx="2.1" stroke-width="0.9" fill="none"/>
<rect x="724.4" y="589" width="9.6" height="31.5" rx="0" stroke-width="1.2" fill="none"/>
<line x1="724.4" y1="593.5" x2="734" y2="593.5" stroke-width="1"/>
<line x1="724.4" y1="615.5" x2="734" y2="615.5" stroke-width="1"/>
<rect x="853" y="589" width="9.6" height="31.5" rx="0" stroke-width="1.2" fill="none"/>
<line x1="853" y1="593.5" x2="862.6" y2="593.5" stroke-width="1"/>
<line x1="853" y1="615.5" x2="862.6" y2="615.5" stroke-width="1"/>
<line x1="726.5" y1="620.5" x2="726.5" y2="669.4" stroke-width="1"/>
<line x1="860.5" y1="620.5" x2="860.5" y2="669.4" stroke-width="1"/>
<path d="M726.3,658.8 L719,658.8 Q715.7,658.8 715.7,662 L715.7,698 L719.5,698 L719.5,663 Q719.5,662.6 721,662.6 L726.3,662.6" stroke-width="1.2" fill="none"/>
<path d="M860,658.8 L867.3,658.8 Q870.6,658.8 870.6,662 L870.6,698 L866.8,698 L866.8,663 Q866.8,662.6 865.3,662.6 L860,662.6" stroke-width="1.2" fill="none"/>
<path d="M729.7,669.4 L729.7,707 Q729.7,714.9 737.5,714.9 L849.5,714.9 Q857.4,714.9 857.4,707 L857.4,669.4" stroke-width="1.4" fill="none"/>
<line x1="732.5" y1="669.4" x2="732.5" y2="706" stroke-width="1"/>
<line x1="854.5" y1="669.4" x2="854.5" y2="706" stroke-width="1"/>
<path d="M737,679 L737,705.2 L773.6,705.2" stroke-width="2" fill="none"/>
<path d="M850,679 L850,705.2 L813.5,705.2" stroke-width="2" fill="none"/>
<line x1="742.8" y1="712.5" x2="843.2" y2="712.5" stroke-width="1.3"/>
<path d="M782.2,700 L774.8,714.3 M784.6,701.2 L777.4,714.3" stroke-width="1.2" fill="none"/>
<path d="M804.9,700 L812.3,714.3 M802.5,701.2 L809.7,714.3" stroke-width="1.2" fill="none"/>
<path d="M740,676 Q740,670.5 745,670.5 L752,670.5" stroke-width="1.2" fill="none"/>
<path d="M847,676 Q847,670.5 842,670.5 L834.5,670.5" stroke-width="1.2" fill="none"/>
<line x1="745" y1="675.5" x2="752" y2="675.5" stroke-width="1"/>
<line x1="834.5" y1="675.5" x2="842" y2="675.5" stroke-width="1"/>
<path d="M752,669.4 L752,697.2 L764.5,697.2 L764.5,669.4" stroke-width="1.5" fill="none"/>
<line x1="754.5" y1="669.4" x2="754.5" y2="696" stroke-width="1"/>
<line x1="762.5" y1="669.4" x2="762.5" y2="696" stroke-width="1"/>
<line x1="752" y1="675.5" x2="764.5" y2="675.5" stroke-width="1"/>
<line x1="752" y1="683.5" x2="764.5" y2="683.5" stroke-width="1"/>
<path d="M777,669.4 L777,697.2 L789.6,697.2 L789.6,669.4" stroke-width="1.5" fill="none"/>
<line x1="779.5" y1="669.4" x2="779.5" y2="696" stroke-width="1"/>
<line x1="787.5" y1="669.4" x2="787.5" y2="696" stroke-width="1"/>
<line x1="777" y1="675.5" x2="789.6" y2="675.5" stroke-width="1"/>
<line x1="777" y1="683.5" x2="789.6" y2="683.5" stroke-width="1"/>
<path d="M795.3,669.4 L795.3,697.2 L807.8,697.2 L807.8,669.4" stroke-width="1.5" fill="none"/>
<line x1="797.5" y1="669.4" x2="797.5" y2="696" stroke-width="1"/>
<line x1="805.5" y1="669.4" x2="805.5" y2="696" stroke-width="1"/>
<line x1="795.3" y1="675.5" x2="807.8" y2="675.5" stroke-width="1"/>
<line x1="795.3" y1="683.5" x2="807.8" y2="683.5" stroke-width="1"/>
<path d="M821,669.4 L821,697.2 L833.5,697.2 L833.5,669.4" stroke-width="1.5" fill="none"/>
<line x1="823.5" y1="669.4" x2="823.5" y2="696" stroke-width="1"/>
<line x1="831.5" y1="669.4" x2="831.5" y2="696" stroke-width="1"/>
<line x1="821" y1="675.5" x2="833.5" y2="675.5" stroke-width="1"/>
<line x1="821" y1="683.5" x2="833.5" y2="683.5" stroke-width="1"/>
<path d="M771.9,669.4 L771.9,694 Q771.9,697.2 774.2,697.2 Q776.5,697.2 776.5,694 L776.5,669.4" stroke-width="1.3" fill="none"/>
<path d="M810,669.4 L810,694 Q810,697.2 812.35,697.2 Q814.7,697.2 814.7,694 L814.7,669.4" stroke-width="1.3" fill="none"/>
<path d="M790.7,669.4 L795.3,669.4 L795.3,694 L793,698 L790.7,694 Z" fill="#000" stroke="none"/>
<rect x="750" y="683" width="3" height="4.5" stroke="none" fill="#000"/>
<rect x="834.5" y="683" width="3" height="4.5" stroke="none" fill="#000"/>
<rect x="762" y="684" width="4" height="3.5" stroke="none" fill="#000"/>
<rect x="819.5" y="684" width="4" height="3.5" stroke="none" fill="#000"/>
<text x="943.3" y="581.5" font-size="17.28" textLength="75.2" lengthAdjust="spacingAndGlyphs" font-weight="normal">PART No.:</text>
<text x="1050" y="612.4" font-size="19.75" textLength="90.4" lengthAdjust="spacingAndGlyphs" font-weight="normal">104153452</text>
<line x1="1050" y1="614.5" x2="1076" y2="614.5" stroke-width="1.3"/>
<line x1="1078.8" y1="614.5" x2="1099.3" y2="614.5" stroke-width="1.3"/>
<line x1="1100.7" y1="614.5" x2="1128" y2="614.5" stroke-width="1.3"/>
<line x1="1130.8" y1="614.5" x2="1141.2" y2="614.5" stroke-width="1.3"/>
<text x="929.6" y="636.2" font-size="18.66" textLength="88.9" lengthAdjust="spacingAndGlyphs" font-weight="normal">USB SERIES</text>
<polyline points="1025.4,628 1064.3,628 1064.3,614.3" stroke-width="1.4" fill="none"/>
<text x="929.6" y="656.8" font-size="18.66" textLength="64.4" lengthAdjust="spacingAndGlyphs" font-weight="normal">PLATING:</text>
<polyline points="1005.4,650.5 1090.3,650.5 1090.3,614.3" stroke-width="1.4" fill="none"/>
<text x="929.6" y="680" font-size="17.83" textLength="160.1" lengthAdjust="spacingAndGlyphs" font-weight="normal">15: Au15u"+Matte Tin</text>
<text x="1174.6" y="700" font-size="18.66" textLength="84.9" lengthAdjust="spacingAndGlyphs" font-weight="normal">SERIAL NO.</text>
<polyline points="1113.8,614.3 1113.8,692.9 1166.4,692.9" stroke-width="1.4" fill="none"/>
<text x="1174.6" y="634.3" font-size="18.11" textLength="57.4" lengthAdjust="spacingAndGlyphs" font-weight="normal">PAKING:</text>
<polyline points="1136.8,614.3 1136.8,628 1166.4,628" stroke-width="1.4" fill="none"/>
<text x="1174.6" y="654.8" font-size="18.11" textLength="61.6" lengthAdjust="spacingAndGlyphs" font-weight="normal">2:  REEL</text>
</g></svg></body></html>
